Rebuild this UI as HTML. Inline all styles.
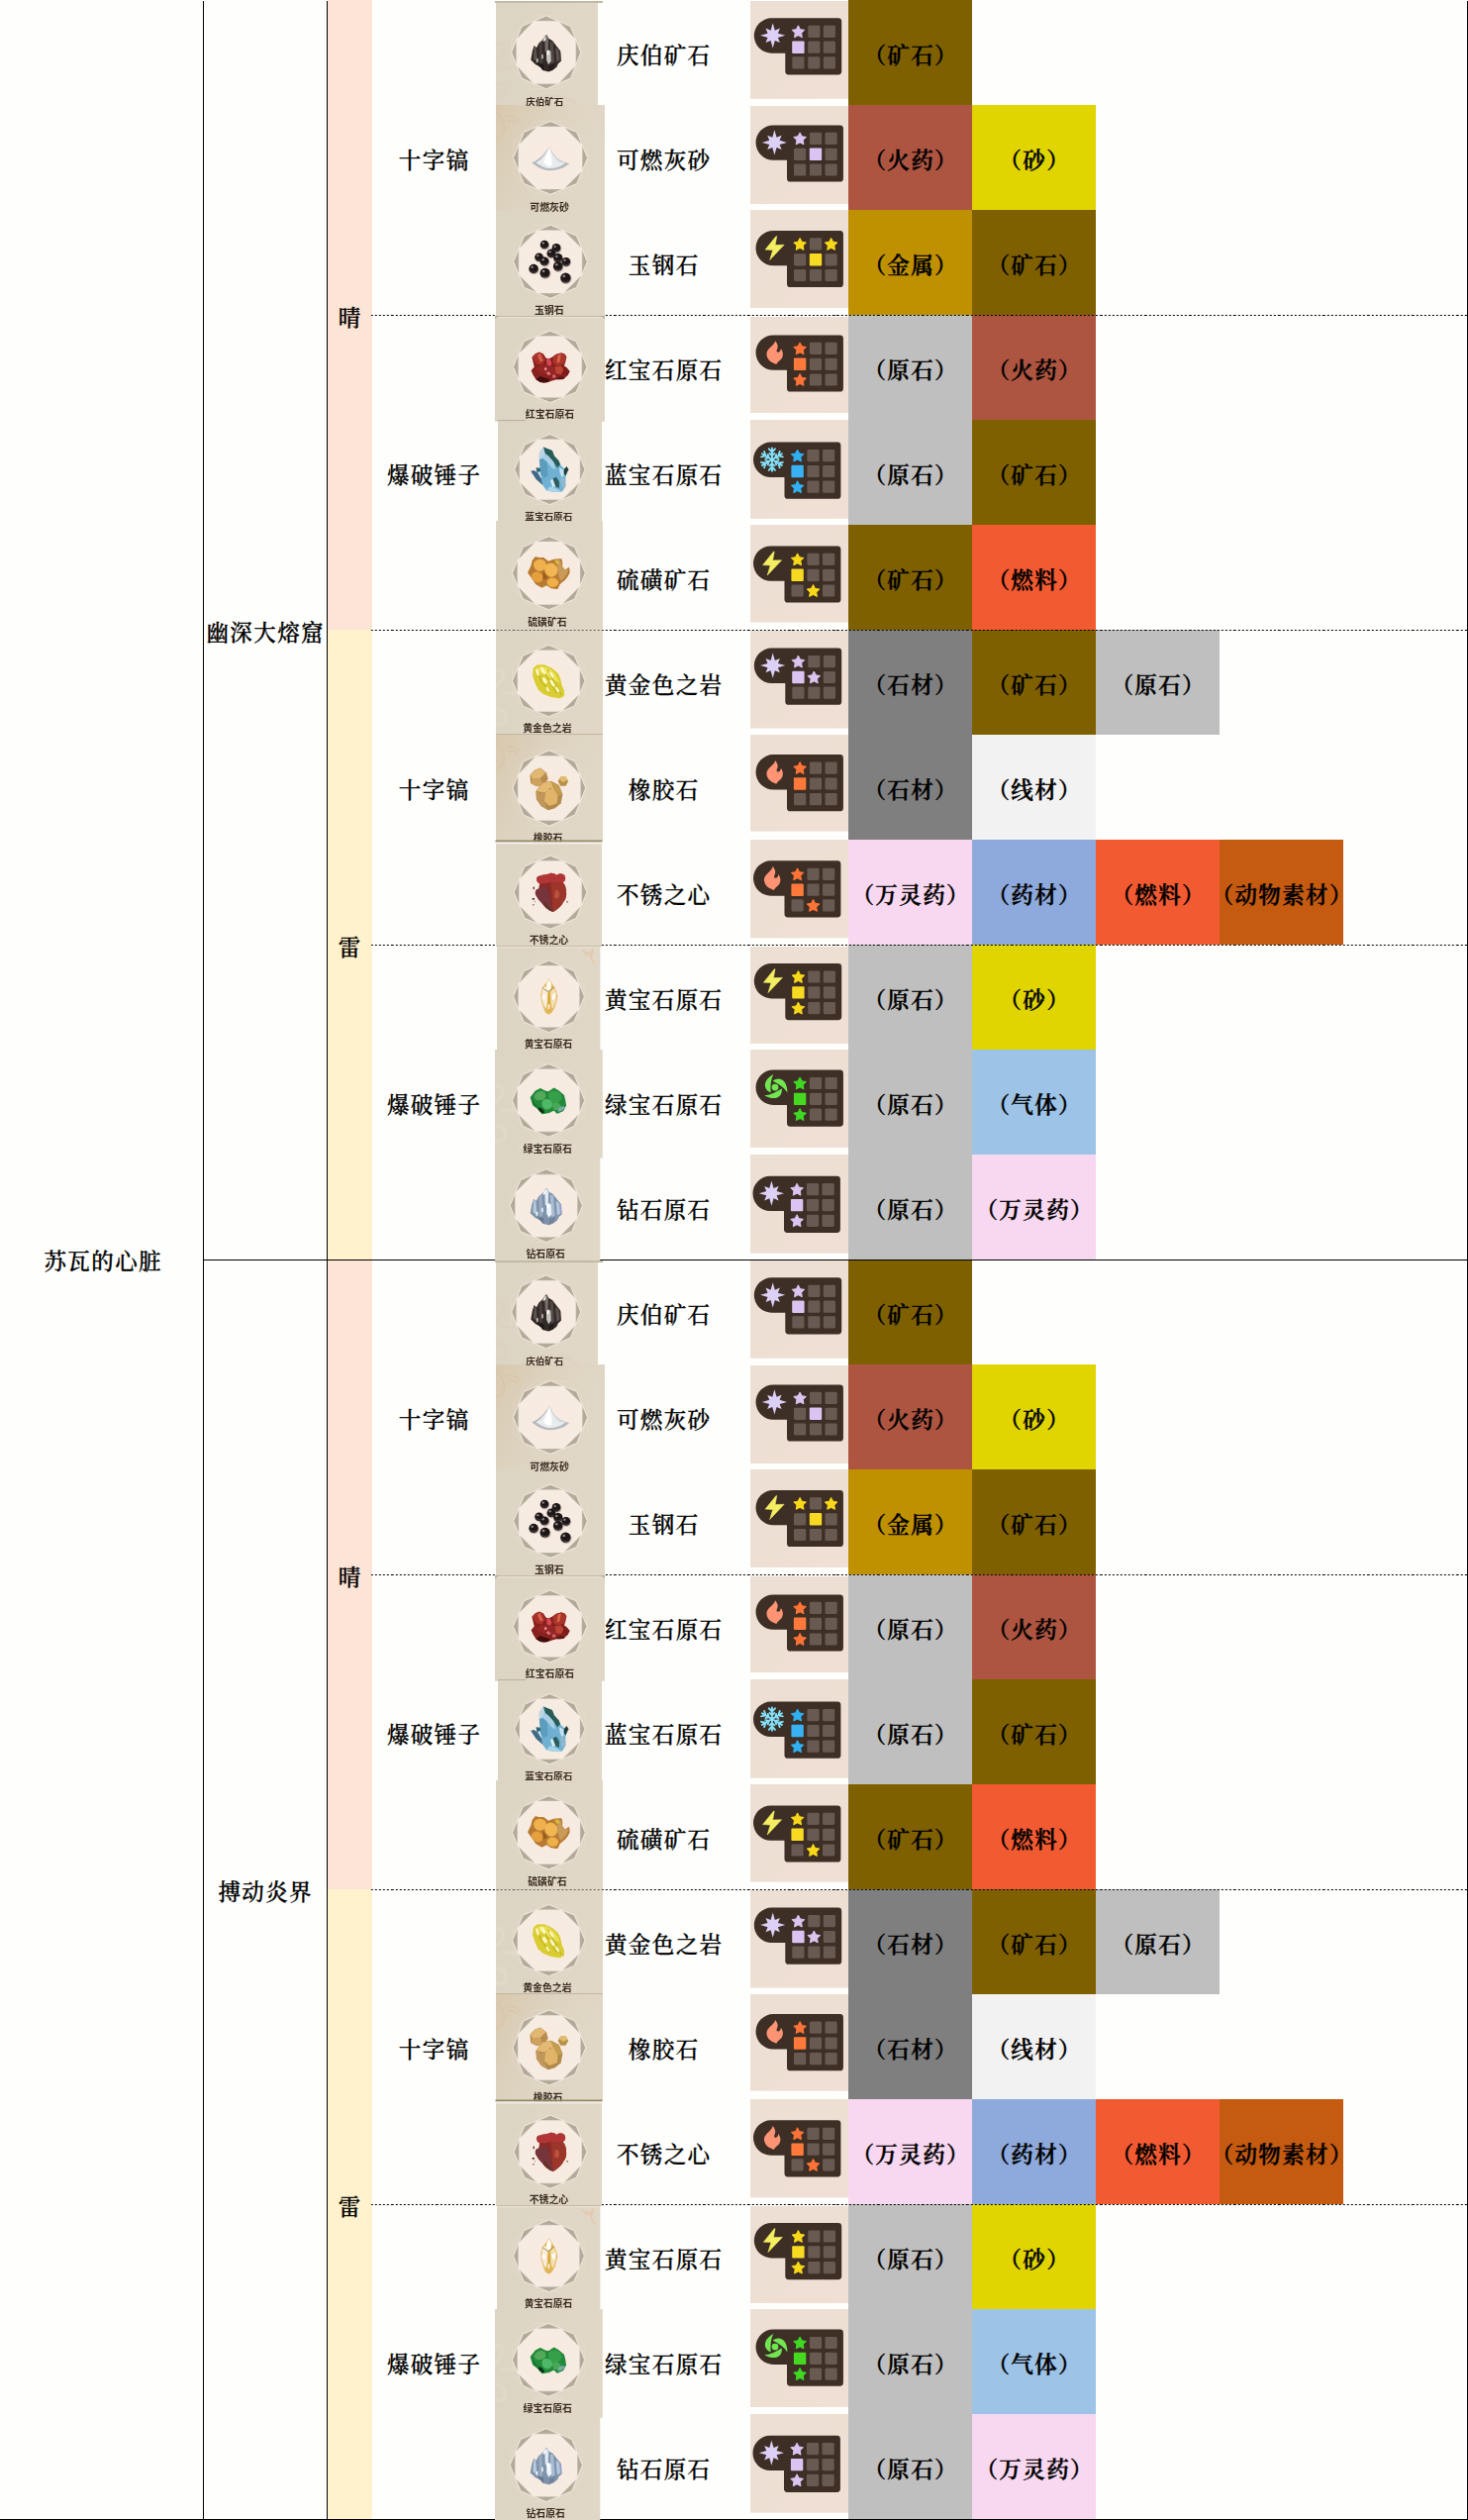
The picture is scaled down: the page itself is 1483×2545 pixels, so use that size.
<!DOCTYPE html>
<html lang="zh-CN"><head><meta charset="utf-8"><title>苏瓦的心脏</title>
<style>
html,body{margin:0;padding:0;background:#fefffd;}
body{width:1483px;height:2545px;position:relative;overflow:hidden;font-family:"Liberation Serif","Noto Serif CJK SC",serif;font-size:22.5px;letter-spacing:1.4px;font-weight:500;color:#000;-webkit-text-stroke:0.3px #000;}
.a{position:absolute;}
.t{position:absolute;white-space:nowrap;text-align:center;line-height:30px;height:30px;padding-left:1.4px;box-sizing:border-box;}
.b{font-weight:600;-webkit-text-stroke:0.4px #000;}
.vl{position:absolute;width:1px;background:#000;}
.hl{position:absolute;height:1px;background:#000;}
.dl{position:absolute;height:1px;left:375px;width:1107px;background:repeating-linear-gradient(90deg,#000 0,#000 2.1px,transparent 2.1px,transparent 4.0913px);background-position:-0.2px 0;}
.c{position:absolute;width:125px;height:106px;}
svg text{letter-spacing:0;}
</style></head><body>

<div class="a" style="left:331px;top:0px;width:45px;height:636px;background:#fce4d6"></div>
<div class="a" style="left:331px;top:636px;width:45px;height:636px;background:#fff2cc"></div>
<div class="a" style="left:331px;top:1272px;width:45px;height:636px;background:#fce4d6"></div>
<div class="a" style="left:331px;top:1908px;width:45px;height:636px;background:#fff2cc"></div>
<div class="c" style="left:857px;top:0px;background:#7f6000"></div>
<div class="c" style="left:857px;top:106px;background:#ae5541"></div>
<div class="c" style="left:982px;top:106px;background:#e0d500"></div>
<div class="c" style="left:857px;top:212px;background:#bf9000"></div>
<div class="c" style="left:982px;top:212px;background:#7f6000"></div>
<div class="c" style="left:857px;top:318px;background:#bfbfbf"></div>
<div class="c" style="left:982px;top:318px;background:#ae5541"></div>
<div class="c" style="left:857px;top:424px;background:#bfbfbf"></div>
<div class="c" style="left:982px;top:424px;background:#7f6000"></div>
<div class="c" style="left:857px;top:530px;background:#7f6000"></div>
<div class="c" style="left:982px;top:530px;background:#f25a32"></div>
<div class="c" style="left:857px;top:636px;background:#7f7f7f"></div>
<div class="c" style="left:982px;top:636px;background:#7f6000"></div>
<div class="c" style="left:1107px;top:636px;background:#bfbfbf"></div>
<div class="c" style="left:857px;top:742px;background:#7f7f7f"></div>
<div class="c" style="left:982px;top:742px;background:#f2f2f2"></div>
<div class="c" style="left:857px;top:848px;background:#f8d7f0"></div>
<div class="c" style="left:982px;top:848px;background:#8ea9db"></div>
<div class="c" style="left:1107px;top:848px;background:#f25a32"></div>
<div class="c" style="left:1232px;top:848px;background:#c55a11"></div>
<div class="c" style="left:857px;top:954px;background:#bfbfbf"></div>
<div class="c" style="left:982px;top:954px;background:#e0d500"></div>
<div class="c" style="left:857px;top:1060px;background:#bfbfbf"></div>
<div class="c" style="left:982px;top:1060px;background:#9dc3e6"></div>
<div class="c" style="left:857px;top:1166px;background:#bfbfbf"></div>
<div class="c" style="left:982px;top:1166px;background:#f8d7f0"></div>
<div class="c" style="left:857px;top:1272px;background:#7f6000"></div>
<div class="c" style="left:857px;top:1378px;background:#ae5541"></div>
<div class="c" style="left:982px;top:1378px;background:#e0d500"></div>
<div class="c" style="left:857px;top:1484px;background:#bf9000"></div>
<div class="c" style="left:982px;top:1484px;background:#7f6000"></div>
<div class="c" style="left:857px;top:1590px;background:#bfbfbf"></div>
<div class="c" style="left:982px;top:1590px;background:#ae5541"></div>
<div class="c" style="left:857px;top:1696px;background:#bfbfbf"></div>
<div class="c" style="left:982px;top:1696px;background:#7f6000"></div>
<div class="c" style="left:857px;top:1802px;background:#7f6000"></div>
<div class="c" style="left:982px;top:1802px;background:#f25a32"></div>
<div class="c" style="left:857px;top:1908px;background:#7f7f7f"></div>
<div class="c" style="left:982px;top:1908px;background:#7f6000"></div>
<div class="c" style="left:1107px;top:1908px;background:#bfbfbf"></div>
<div class="c" style="left:857px;top:2014px;background:#7f7f7f"></div>
<div class="c" style="left:982px;top:2014px;background:#f2f2f2"></div>
<div class="c" style="left:857px;top:2120px;background:#f8d7f0"></div>
<div class="c" style="left:982px;top:2120px;background:#8ea9db"></div>
<div class="c" style="left:1107px;top:2120px;background:#f25a32"></div>
<div class="c" style="left:1232px;top:2120px;background:#c55a11"></div>
<div class="c" style="left:857px;top:2226px;background:#bfbfbf"></div>
<div class="c" style="left:982px;top:2226px;background:#e0d500"></div>
<div class="c" style="left:857px;top:2332px;background:#bfbfbf"></div>
<div class="c" style="left:982px;top:2332px;background:#9dc3e6"></div>
<div class="c" style="left:857px;top:2438px;background:#bfbfbf"></div>
<div class="c" style="left:982px;top:2438px;background:#f8d7f0"></div>
<div class="vl" style="left:205px;top:1px;height:2544px"></div>
<div class="vl" style="left:330px;top:1px;height:2544px"></div>
<div class="vl" style="left:1482px;top:1px;height:2544px"></div>
<div class="hl" style="left:205px;top:1272px;width:1278px"></div>
<div class="hl" style="left:0;top:2544px;width:1483px"></div>
<div class="dl" style="top:318px"></div>
<div class="dl" style="top:636px"></div>
<div class="dl" style="top:954px"></div>
<div class="dl" style="top:1590px"></div>
<div class="dl" style="top:1908px"></div>
<div class="dl" style="top:2226px"></div>
<svg width="0" height="0" style="position:absolute"><defs>
<linearGradient id="gbg" x1="0" y1="0" x2="1" y2="1"><stop offset="0" stop-color="#ecdfd3"/><stop offset="1" stop-color="#f0dfd4"/></linearGradient>
<linearGradient id="ibg" x1="0" y1="0" x2="1" y2="0"><stop offset="0" stop-color="#dcd5c4"/><stop offset="1" stop-color="#e1d7c6"/></linearGradient>
<radialGradient id="disc" cx="0.5" cy="0.5" r="0.5"><stop offset="0" stop-color="#fbe9e0"/><stop offset="0.6" stop-color="#f7ebe1"/><stop offset="1" stop-color="#f5ece2"/></radialGradient>
<linearGradient id="tan" x1="0" y1="0" x2="1" y2="0.5"><stop offset="0" stop-color="#d8c6aa" stop-opacity="0.9"/><stop offset="0.45" stop-color="#dccfb8" stop-opacity="0.5"/><stop offset="1" stop-color="#e0d6c4" stop-opacity="0"/></linearGradient>
<filter id="b3" x="-5%" y="-5%" width="110%" height="110%"><feGaussianBlur stdDeviation="0.35"/></filter>
<filter id="b5" x="-10%" y="-10%" width="120%" height="120%"><feGaussianBlur stdDeviation="0.5"/></filter>
<filter id="b8" x="-10%" y="-10%" width="120%" height="120%"><feGaussianBlur stdDeviation="0.8"/></filter>
</defs></svg>
<svg class="a" style="left:500.5px;top:1px" width="103.2" height="105.4" viewBox="0 0 103.2 105.4"><rect width="103.2" height="105.4" fill="url(#ibg)"/><g transform="translate(-6 62)" fill="none" stroke="#d9c8b6" stroke-width="1.3" opacity="0.6" filter="url(#b8)"><path d="M2,0 C12,-4 16,-14 12,-18 C8,-21 3,-18 4,-13"/><path d="M0,22 C10,18 18,24 16,32 C14,38 6,38 4,34"/><path d="M12,4 C20,8 22,2 30,6"/><path d="M30,44 C50,30 80,32 88,44"/></g><g transform="translate(50.7 51.9) scale(0.9358 0.9866)"><g filter="url(#b3)"><polygon points="37.32,15.46 15.46,37.32 -15.46,37.32 -37.32,15.46 -37.32,-15.46 -15.46,-37.32 15.46,-37.32 37.32,-15.46" fill="none" stroke="#ebe4d8" stroke-width="0.8" opacity="0.35"/><polygon points="37.4,0 26.45,26.45 0,37.4 -26.45,26.45 -37.4,0 -26.45,-26.45 -0,-37.4 26.45,-26.45" fill="#b3aa9a" stroke="#f4eee3" stroke-width="0.9" stroke-linejoin="round"/><polygon points="31.97,13.24 13.24,31.97 -13.24,31.97 -31.97,13.24 -31.97,-13.24 -13.24,-31.97 13.24,-31.97 31.97,-13.24" fill="url(#disc)" stroke="#f1e9de" stroke-width="0.5"/></g><g filter="url(#b5)"><polygon points="0.5,-18.1 2.7,-14.4 7,-11.9 11.4,-6.2 15.3,-1.7 16.2,8.9 13.1,11.4 11.4,15 7,18.3 2.7,19.9 -3.9,18.3 -6.1,15 -11.3,12.6 -16.5,7.7 -14.8,-1.3 -13,-7 -10.4,-4.6 -7.8,-9.5 -4.3,-12.3 -1.7,-16" fill="#332b28" /><polygon points="-13,-6.4 -10.6,-3.6 -9.6,9 -13.6,7" fill="#5b534e" /><polygon points="-7.6,-9 -4.6,-11.6 -3.6,10 -7,12" fill="#463f3b" /><polygon points="-1.6,-15.4 0.6,-17.4 2.4,-13.6 2,1 -1,-1" fill="#77706a" /><polygon points="4,-11 7.4,-10.6 9,10 5.4,12" fill="#524a46" /><polygon points="10,-5 13.6,-2.4 14.8,8 11.4,10" fill="#5b534e" /><polygon points="14,-1.6 15.6,-0.6 15.8,8.4 14.4,9" fill="#3b3431" /><polygon points="0.4,0 3,-2.6 5,-1 5.4,9 2.6,12.4 0.4,8" fill="#c9c4bd" /><polygon points="0.8,-1.4 2.6,-2.4 3,2 1,3" fill="#ffffff" /><polygon points="-5,3 -3.4,1.6 -3,6 -4.6,7" fill="#c9c4bd" /><polygon points="-10.6,7 -8.6,6 -8.6,10 -10.4,10.6" fill="#c9c4bd" /><polygon points="-2.6,-14.6 0,-17 -0.6,-12 -3.6,-11" fill="#e6e2da" /><polygon points="-9,11 -3,12.6 -2,18 -7,14.6" fill="#1c1715" /><polygon points="3,14 9,11.6 8,16.6 3,19.4" fill="#241e1b" /></g></g></svg>
<svg class="a" style="left:757.7px;top:1px" width="99.3" height="98.8" viewBox="0 0 99.3 98.8"><rect width="99.3" height="98.8" fill="url(#gbg)"/><g transform="translate(3.8 17.3)"><path d="M17.7,0 H85 Q88.4,0 88.4,3.4 V53.8 Q88.4,57.2 85,57.2 H34.9 Q31.5,57.2 31.5,53.8 V35.4 H17.7 A17.7,17.7 0 0 1 17.7,0 Z" fill="#3d2e26" filter="url(#b3)"/><polygon points="44.6,7.5 46.6,11.35 50.88,12.06 47.83,15.15 48.48,19.44 44.6,17.5 40.72,19.44 41.37,15.15 38.32,12.06 42.6,11.35" fill="#dac4f0" stroke="#dac4f0" stroke-width="1" stroke-linejoin="round"/><rect x="54.4" y="7.4" width="12.2" height="12.2" rx="1.4" fill="#685a52"/><rect x="70" y="7.4" width="12.2" height="12.2" rx="1.4" fill="#685a52"/><rect x="38.4" y="23.2" width="12.399999999999999" height="12.399999999999999" rx="1" fill="#dcc4f2"/><rect x="54.4" y="23.3" width="12.2" height="12.2" rx="1.4" fill="#685a52"/><rect x="70" y="23.3" width="12.2" height="12.2" rx="1.4" fill="#685a52"/><rect x="38.5" y="39" width="12.2" height="12.2" rx="1.4" fill="#685a52"/><rect x="54.4" y="39" width="12.2" height="12.2" rx="1.4" fill="#685a52"/><rect x="70" y="39" width="12.2" height="12.2" rx="1.4" fill="#685a52"/><polygon points="18.9,4.9 21.04,12.33 26.11,10.29 24.07,15.36 31.5,17.5 24.07,19.64 26.11,24.71 21.04,22.67 18.9,30.1 16.76,22.67 11.69,24.71 13.73,19.64 6.3,17.5 13.73,15.36 11.69,10.29 16.76,12.33" fill="#ddd0f6"/></g></svg>
<svg class="a" style="left:500.5px;top:106.4px" width="110.1" height="106.1" viewBox="0 0 110.1 106.1"><rect width="110.1" height="106.1" fill="url(#ibg)"/><rect width="110.1" height="106.1" fill="url(#tan)"/><g transform="translate(-4 4)" fill="none" stroke="#dcc0ac" stroke-width="1.3" opacity="0.8" filter="url(#b5)"><path d="M0,2 C8,4 14,12 12,22 C11,28 6,30 2,28"/><path d="M14,8 C20,6 26,8 28,12"/><path d="M16,12 C20,11 24,12 26,15"/></g><g transform="translate(55 53.45) scale(1.0053 0.9853)"><g filter="url(#b3)"><polygon points="37.32,15.46 15.46,37.32 -15.46,37.32 -37.32,15.46 -37.32,-15.46 -15.46,-37.32 15.46,-37.32 37.32,-15.46" fill="none" stroke="#ebe4d8" stroke-width="0.8" opacity="0.35"/><polygon points="37.4,0 26.45,26.45 0,37.4 -26.45,26.45 -37.4,0 -26.45,-26.45 -0,-37.4 26.45,-26.45" fill="#b3aa9a" stroke="#f4eee3" stroke-width="0.9" stroke-linejoin="round"/><polygon points="31.97,13.24 13.24,31.97 -13.24,31.97 -31.97,13.24 -31.97,-13.24 -13.24,-31.97 13.24,-31.97 31.97,-13.24" fill="url(#disc)" stroke="#f1e9de" stroke-width="0.5"/></g><g filter="url(#b5)"><path d="M-1.1,-11.6 C0.5,-8 3,-3 7,0.5 C11,3 15,4.5 19,5.7 C16,9 11,11.5 6,12.3 C2,13.2 -2,13.4 -5,12.6 C-9,11.6 -13,9.5 -15.5,7.5 C-17,6.5 -18,5.6 -18.6,4.9 C-14,3 -10,0 -7,-3.5 C-4.5,-6.6 -2.6,-9 -1.1,-11.6 Z" fill="#b4b9bd"/><path d="M-1.1,-11.2 C0.2,-7.6 2.4,-3 6,0.4 C9,2.6 12,3.8 15,4.8 C12,7.6 8.4,9.4 4.4,10.2 C1.4,10.9 -1.6,11 -4,10.4 C-7.4,9.6 -11,7.6 -14.6,5 C-11,3 -8.4,0.4 -6,-3 C-4,-6 -2.4,-8.6 -1.1,-11.2 Z" fill="#e9ecee"/><path d="M-1.1,-11 C-0.2,-7 1.6,-1 1.4,8 C-2,9 -5,7 -7,4 C-5,0 -3,-5 -1.1,-11 Z" fill="#ffffff"/><path d="M2,-6 C4,-2 8,2 14,4.6 C10,6 6,4 2,-6 Z" fill="#cfd4d7"/></g></g></svg>
<svg class="a" style="left:757.7px;top:106.8px" width="99.3" height="99.2" viewBox="0 0 99.3 99.2"><rect width="99.3" height="99.2" fill="url(#gbg)"/><g transform="translate(5.5 19.4)"><path d="M17.7,0 H85 Q88.4,0 88.4,3.4 V53.8 Q88.4,57.2 85,57.2 H34.9 Q31.5,57.2 31.5,53.8 V35.4 H17.7 A17.7,17.7 0 0 1 17.7,0 Z" fill="#3d2e26" filter="url(#b3)"/><polygon points="44.6,7.5 46.6,11.35 50.88,12.06 47.83,15.15 48.48,19.44 44.6,17.5 40.72,19.44 41.37,15.15 38.32,12.06 42.6,11.35" fill="#dac4f0" stroke="#dac4f0" stroke-width="1" stroke-linejoin="round"/><rect x="54.4" y="7.4" width="12.2" height="12.2" rx="1.4" fill="#685a52"/><rect x="70" y="7.4" width="12.2" height="12.2" rx="1.4" fill="#685a52"/><rect x="38.5" y="23.3" width="12.2" height="12.2" rx="1.4" fill="#685a52"/><rect x="54.3" y="23.2" width="12.399999999999999" height="12.399999999999999" rx="1" fill="#dcc4f2"/><rect x="70" y="23.3" width="12.2" height="12.2" rx="1.4" fill="#685a52"/><rect x="38.5" y="39" width="12.2" height="12.2" rx="1.4" fill="#685a52"/><rect x="54.4" y="39" width="12.2" height="12.2" rx="1.4" fill="#685a52"/><rect x="70" y="39" width="12.2" height="12.2" rx="1.4" fill="#685a52"/><polygon points="18.9,4.9 21.04,12.33 26.11,10.29 24.07,15.36 31.5,17.5 24.07,19.64 26.11,24.71 21.04,22.67 18.9,30.1 16.76,22.67 11.69,24.71 13.73,19.64 6.3,17.5 13.73,15.36 11.69,10.29 16.76,12.33" fill="#ddd0f6"/></g></svg>
<svg class="a" style="left:500.5px;top:212px" width="110.5" height="107.5" viewBox="0 0 110.5 107.5"><rect width="110.5" height="107.5" fill="url(#ibg)"/><g transform="translate(55 52.3) scale(0.9973 0.9893)"><g filter="url(#b3)"><polygon points="37.32,15.46 15.46,37.32 -15.46,37.32 -37.32,15.46 -37.32,-15.46 -15.46,-37.32 15.46,-37.32 37.32,-15.46" fill="none" stroke="#ebe4d8" stroke-width="0.8" opacity="0.35"/><polygon points="37.4,0 26.45,26.45 0,37.4 -26.45,26.45 -37.4,0 -26.45,-26.45 -0,-37.4 26.45,-26.45" fill="#b3aa9a" stroke="#f4eee3" stroke-width="0.9" stroke-linejoin="round"/><polygon points="31.97,13.24 13.24,31.97 -13.24,31.97 -31.97,13.24 -31.97,-13.24 -13.24,-31.97 13.24,-31.97 31.97,-13.24" fill="url(#disc)" stroke="#f1e9de" stroke-width="0.5"/></g><g filter="url(#b5)"><circle cx="-5.5" cy="-16.7" r="4.8" fill="#b5aba6" opacity="0.8"/><circle cx="6.5" cy="-13.2" r="4.9" fill="#b5aba6" opacity="0.8"/><circle cx="1.4" cy="-7.7" r="4.9" fill="#b5aba6" opacity="0.8"/><circle cx="-11" cy="-3.9" r="4.8" fill="#b5aba6" opacity="0.8"/><circle cx="8.2" cy="-3" r="5.1" fill="#b5aba6" opacity="0.8"/><circle cx="-5.5" cy="0.4" r="5" fill="#b5aba6" opacity="0.8"/><circle cx="16.3" cy="0.8" r="4.9" fill="#b5aba6" opacity="0.8"/><circle cx="8.2" cy="5.5" r="5.3" fill="#b5aba6" opacity="0.8"/><circle cx="-16.5" cy="8" r="5.2" fill="#b5aba6" opacity="0.8"/><circle cx="-5" cy="12.3" r="5.5" fill="#b5aba6" opacity="0.8"/><circle cx="15.9" cy="17.4" r="5.7" fill="#b5aba6" opacity="0.8"/><circle cx="-6" cy="-17.5" r="4.3" fill="#1c1415"/><circle cx="-7.29" cy="-19" r="1.2" fill="#8a8084"/><path d="M-9.01,-16 A3.44,3.44 0 0 0 -2.99,-16" fill="none" stroke="#5a4e50" stroke-width="0.7"/><circle cx="6" cy="-14" r="4.4" fill="#1c1415"/><circle cx="4.68" cy="-15.54" r="1.23" fill="#8a8084"/><path d="M2.92,-12.46 A3.52,3.52 0 0 0 9.08,-12.46" fill="none" stroke="#5a4e50" stroke-width="0.7"/><circle cx="0.9" cy="-8.5" r="4.4" fill="#1c1415"/><circle cx="-0.42" cy="-10.04" r="1.23" fill="#8a8084"/><path d="M-2.18,-6.96 A3.52,3.52 0 0 0 3.98,-6.96" fill="none" stroke="#5a4e50" stroke-width="0.7"/><circle cx="-11.5" cy="-4.7" r="4.3" fill="#1c1415"/><circle cx="-12.79" cy="-6.21" r="1.2" fill="#8a8084"/><path d="M-14.51,-3.2 A3.44,3.44 0 0 0 -8.49,-3.2" fill="none" stroke="#5a4e50" stroke-width="0.7"/><circle cx="7.7" cy="-3.8" r="4.6" fill="#1c1415"/><circle cx="6.32" cy="-5.41" r="1.29" fill="#8a8084"/><path d="M4.48,-2.19 A3.68,3.68 0 0 0 10.92,-2.19" fill="none" stroke="#5a4e50" stroke-width="0.7"/><circle cx="-6" cy="-0.4" r="4.5" fill="#1c1415"/><circle cx="-7.35" cy="-1.98" r="1.26" fill="#8a8084"/><path d="M-9.15,1.17 A3.6,3.6 0 0 0 -2.85,1.17" fill="none" stroke="#5a4e50" stroke-width="0.7"/><circle cx="15.8" cy="0" r="4.4" fill="#1c1415"/><circle cx="14.48" cy="-1.54" r="1.23" fill="#8a8084"/><path d="M12.72,1.54 A3.52,3.52 0 0 0 18.88,1.54" fill="none" stroke="#5a4e50" stroke-width="0.7"/><circle cx="7.7" cy="4.7" r="4.8" fill="#1c1415"/><circle cx="6.26" cy="3.02" r="1.34" fill="#8a8084"/><path d="M4.34,6.38 A3.84,3.84 0 0 0 11.06,6.38" fill="none" stroke="#5a4e50" stroke-width="0.7"/><circle cx="-17" cy="7.2" r="4.7" fill="#1c1415"/><circle cx="-18.41" cy="5.55" r="1.32" fill="#8a8084"/><path d="M-20.29,8.85 A3.76,3.76 0 0 0 -13.71,8.85" fill="none" stroke="#5a4e50" stroke-width="0.7"/><circle cx="-5.5" cy="11.5" r="5" fill="#1c1415"/><circle cx="-7" cy="9.75" r="1.4" fill="#8a8084"/><path d="M-9,13.25 A4,4 0 0 0 -2,13.25" fill="none" stroke="#5a4e50" stroke-width="0.7"/><circle cx="15.4" cy="16.6" r="5.2" fill="#1c1415"/><circle cx="13.84" cy="14.78" r="1.46" fill="#8a8084"/><path d="M11.76,18.42 A4.16,4.16 0 0 0 19.04,18.42" fill="none" stroke="#5a4e50" stroke-width="0.7"/></g></g></svg>
<svg class="a" style="left:757.7px;top:211.7px" width="99.3" height="99.8" viewBox="0 0 99.3 99.8"><rect width="99.3" height="99.8" fill="url(#gbg)"/><g transform="translate(5.5 20.9)"><path d="M17.7,0 H85 Q88.4,0 88.4,3.4 V53.8 Q88.4,57.2 85,57.2 H34.9 Q31.5,57.2 31.5,53.8 V35.4 H17.7 A17.7,17.7 0 0 1 17.7,0 Z" fill="#3d2e26" filter="url(#b3)"/><polygon points="44.6,7.5 46.6,11.35 50.88,12.06 47.83,15.15 48.48,19.44 44.6,17.5 40.72,19.44 41.37,15.15 38.32,12.06 42.6,11.35" fill="#f8d818" stroke="#f8d818" stroke-width="1" stroke-linejoin="round"/><rect x="54.4" y="7.4" width="12.2" height="12.2" rx="1.4" fill="#685a52"/><polygon points="76.1,7.5 78.1,11.35 82.38,12.06 79.33,15.15 79.98,19.44 76.1,17.5 72.22,19.44 72.87,15.15 69.82,12.06 74.1,11.35" fill="#f8d818" stroke="#f8d818" stroke-width="1" stroke-linejoin="round"/><rect x="38.5" y="23.3" width="12.2" height="12.2" rx="1.4" fill="#685a52"/><rect x="54.3" y="23.2" width="12.399999999999999" height="12.399999999999999" rx="1" fill="#f9da22"/><rect x="70" y="23.3" width="12.2" height="12.2" rx="1.4" fill="#685a52"/><rect x="38.5" y="39" width="12.2" height="12.2" rx="1.4" fill="#685a52"/><rect x="54.4" y="39" width="12.2" height="12.2" rx="1.4" fill="#685a52"/><rect x="70" y="39" width="12.2" height="12.2" rx="1.4" fill="#685a52"/><polygon points="20.6,5.6 9.6,19.2 17.2,19.6 14.2,29.6 28.6,14.4 19.6,14.6 21.2,5.8" fill="#f4ee62" stroke="#f4ee62" stroke-width="0.6" stroke-linejoin="round"/></g></svg>
<svg class="a" style="left:500px;top:319.2px" width="111" height="106.8" viewBox="0 0 111 106.8"><rect width="111" height="106.8" fill="url(#ibg)"/><rect x="0" y="0" width="111" height="1" fill="#c5bca6"/><rect x="0" y="1" width="111" height="1.2" fill="#e9e2d4"/><path d="M0,0 l5,0 l-5,3 Z M111,0 l-5,0 l5,3 Z" fill="#b3a98f" opacity="0.8"/><g transform="translate(55.7 51.4) scale(0.9973 0.9679)"><g filter="url(#b3)"><polygon points="37.32,15.46 15.46,37.32 -15.46,37.32 -37.32,15.46 -37.32,-15.46 -15.46,-37.32 15.46,-37.32 37.32,-15.46" fill="none" stroke="#ebe4d8" stroke-width="0.8" opacity="0.35"/><polygon points="37.4,0 26.45,26.45 0,37.4 -26.45,26.45 -37.4,0 -26.45,-26.45 -0,-37.4 26.45,-26.45" fill="#b3aa9a" stroke="#f4eee3" stroke-width="0.9" stroke-linejoin="round"/><polygon points="31.97,13.24 13.24,31.97 -13.24,31.97 -31.97,13.24 -31.97,-13.24 -13.24,-31.97 13.24,-31.97 31.97,-13.24" fill="url(#disc)" stroke="#f1e9de" stroke-width="0.5"/></g><g filter="url(#b5)"><polygon points="-11,-15.3 -7,-13.6 -4,-9 -1.3,-8.3 2,-10 6,-13 11.4,-14.5 15,-13.4 16.7,-10.4 15.6,-5 14.3,-1 17,1 20,4.7 18,9 13.4,12.9 8,13 2,14.5 -2,16 -6.2,16.6 -10,16 -14.3,13.3 -17,9 -19.2,3.9 -16,0 -17,-4 -18.4,-10 -15,-13.6" fill="#86201e" /><polygon points="-18,-10 -15,-13.4 -11,-15 -7.6,-13 -5,-7 -8,-2 -14,-3" fill="#a8322a" /><polygon points="3,-10 7,-13 11.4,-14.2 15,-12.6 16,-10 14,-3 7,-1 3,-4" fill="#ac342c" /><polygon points="-13,-12 -10,-14 -7,-6 -10,-5" fill="#d4604c" /><polygon points="8,-12 11,-13 9.6,-5 7,-4" fill="#d8674e" /><polygon points="-3.6,-8 -0.6,-8.6 1.6,-4 0,1 -3,-1" fill="#d8465a" /><polygon points="-10,-1 -3,-2 3,0 10,-1 14,3 8,8 -2,8 -12,6 -15,2" fill="#962626" /><polygon points="5,0 11,-1 14,3 11,8 6,7" fill="#ba4434" /><polygon points="-6,1.6 -4,0.6 -3,3 -5,4" fill="#f09a9a" /><polygon points="-4,6 -1,5 1,8 -2,9" fill="#e0707c" /><polygon points="2,9 5,8 6,11 3,12" fill="#d86874" /><polygon points="-14.3,13.3 -10,10 -4,12 0,13 -2,16 -6.2,16.6 -10,16" fill="#430e10" /><polygon points="6,12 12,10 15,11.4 13.4,12.9 8,13.6" fill="#5a1416" /><polygon points="14,1 19.6,4.6 17.6,8.6 13,7" fill="#7d1a1c" /></g></g></svg>
<svg class="a" style="left:757.7px;top:320px" width="99.3" height="97" viewBox="0 0 99.3 97"><rect width="99.3" height="97" fill="url(#gbg)"/><g transform="translate(5.5 18.4)"><path d="M17.7,0 H85 Q88.4,0 88.4,3.4 V53.8 Q88.4,57.2 85,57.2 H34.9 Q31.5,57.2 31.5,53.8 V35.4 H17.7 A17.7,17.7 0 0 1 17.7,0 Z" fill="#3d2e26" filter="url(#b3)"/><polygon points="44.6,7.5 46.6,11.35 50.88,12.06 47.83,15.15 48.48,19.44 44.6,17.5 40.72,19.44 41.37,15.15 38.32,12.06 42.6,11.35" fill="#ff7436" stroke="#ff7436" stroke-width="1" stroke-linejoin="round"/><rect x="54.4" y="7.4" width="12.2" height="12.2" rx="1.4" fill="#685a52"/><rect x="70" y="7.4" width="12.2" height="12.2" rx="1.4" fill="#685a52"/><rect x="38.4" y="23.2" width="12.399999999999999" height="12.399999999999999" rx="1" fill="#ff7a3a"/><rect x="54.4" y="23.3" width="12.2" height="12.2" rx="1.4" fill="#685a52"/><rect x="70" y="23.3" width="12.2" height="12.2" rx="1.4" fill="#685a52"/><polygon points="44.6,39.1 46.6,42.95 50.88,43.66 47.83,46.75 48.48,51.04 44.6,49.1 40.72,51.04 41.37,46.75 38.32,43.66 42.6,42.95" fill="#ff7436" stroke="#ff7436" stroke-width="1" stroke-linejoin="round"/><rect x="54.4" y="39" width="12.2" height="12.2" rx="1.4" fill="#685a52"/><rect x="70" y="39" width="12.2" height="12.2" rx="1.4" fill="#685a52"/><path d="M19.6,5.8 C21.8,8.6 23.2,11.4 21.4,14.6 C20.6,16.2 21.2,17.8 22.8,17.4 C24.6,16.9 25.4,15.2 25.2,13.6 C27.6,16.4 28.2,20.4 26.2,23.6 C24.6,26 22,26.6 20.8,29.6 C16.4,28.2 11.6,25.4 11,20.2 C10.6,15.8 13.8,13.2 16.6,10.6 C18,9.2 19.2,7.8 19.6,5.8 Z" fill="#ff9474"/></g></svg>
<svg class="a" style="left:502.8px;top:424px" width="105.2" height="102.4" viewBox="0 0 105.2 102.4"><rect width="105.2" height="102.4" fill="url(#ibg)"/><path d="M0,0.6 h28" stroke="#a39a84" stroke-width="0.9" opacity="0.7"/><g transform="translate(52.4 50.15) scale(0.9519 0.9479)"><g filter="url(#b3)"><polygon points="37.32,15.46 15.46,37.32 -15.46,37.32 -37.32,15.46 -37.32,-15.46 -15.46,-37.32 15.46,-37.32 37.32,-15.46" fill="none" stroke="#ebe4d8" stroke-width="0.8" opacity="0.35"/><polygon points="37.4,0 26.45,26.45 0,37.4 -26.45,26.45 -37.4,0 -26.45,-26.45 -0,-37.4 26.45,-26.45" fill="#b3aa9a" stroke="#f4eee3" stroke-width="0.9" stroke-linejoin="round"/><polygon points="31.97,13.24 13.24,31.97 -13.24,31.97 -31.97,13.24 -31.97,-13.24 -13.24,-31.97 13.24,-31.97 31.97,-13.24" fill="url(#disc)" stroke="#f1e9de" stroke-width="0.5"/></g><g filter="url(#b5)"><polygon points="-20.2,1.8 -16.7,0.9 -12,4 -8,10 -7.7,16.4 -14.6,10.4" fill="#3f6a88" /><polygon points="-14.6,-2.1 -9.4,-1.6 -6,6 -5,14 -9,9 -13.7,2.7" fill="#2f6474" /><polygon points="-13,3 -10.6,2 -8,8 -9,10" fill="#cfe8f2" /><polygon points="-6.8,-24 2.6,-20.1 4.8,-14.5 9.5,-9.4 11.2,-5.1 15.5,-0.8 16.8,7 16.8,17.7 12.9,23.8 4.8,24.2 -3.4,22.5 -7.7,16.4 -9.4,5 -11.1,-10.2 -11.1,-17.5" fill="#6fb1d3" /><polygon points="-6.8,-24 2.6,-20.1 4.8,-14.5 9.5,-9.4 11.2,-5.1 8,-2 4,-8 -1,-14 -5,-17" fill="#2b5b56" /><polygon points="-6.8,-24 -5,-17 -8,-12 -11.1,-10.2 -11.1,-17.5" fill="#bcd6e6" /><polygon points="-5,-17 -1,-14 4,-8 6,0 2,-2 -3,-8 -8,-12" fill="#a9cfe6" /><polygon points="-11.1,-10.2 -8,-12 -3,-8 -2,6 -6,10 -9.4,5" fill="#5b9dbd" /><polygon points="15.5,-0.8 18.1,-3.4 19.8,0.1 16.8,7 15,4" fill="#1e3c3a" /><polygon points="10,-2 14,0 15,6 13,9 10.6,3" fill="#c8e2ee" /><polygon points="3,10 7,8 10,13 10,20 6,18" fill="#2e5e5c" /><polygon points="0.6,12 3,10 6,18 3,19" fill="#d2ecf4" /><polygon points="-3.4,22.5 0,18 6,20 10,22 12.9,23.8 4.8,24.2" fill="#a8d4e8" /><polygon points="11,10 16,9 16.8,17.7 13,20" fill="#8fb8cc" /></g></g></svg>
<svg class="a" style="left:757.7px;top:423.8px" width="99.3" height="99.8" viewBox="0 0 99.3 99.8"><rect width="99.3" height="99.8" fill="url(#gbg)"/><g transform="translate(3 22.6)"><path d="M17.7,0 H85 Q88.4,0 88.4,3.4 V53.8 Q88.4,57.2 85,57.2 H34.9 Q31.5,57.2 31.5,53.8 V35.4 H17.7 A17.7,17.7 0 0 1 17.7,0 Z" fill="#3d2e26" filter="url(#b3)"/><polygon points="44.6,7.5 46.6,11.35 50.88,12.06 47.83,15.15 48.48,19.44 44.6,17.5 40.72,19.44 41.37,15.15 38.32,12.06 42.6,11.35" fill="#2fb0f2" stroke="#2fb0f2" stroke-width="1" stroke-linejoin="round"/><rect x="54.4" y="7.4" width="12.2" height="12.2" rx="1.4" fill="#685a52"/><rect x="70" y="7.4" width="12.2" height="12.2" rx="1.4" fill="#685a52"/><rect x="38.4" y="23.2" width="12.399999999999999" height="12.399999999999999" rx="1" fill="#38b2f2"/><rect x="54.4" y="23.3" width="12.2" height="12.2" rx="1.4" fill="#685a52"/><rect x="70" y="23.3" width="12.2" height="12.2" rx="1.4" fill="#685a52"/><polygon points="44.6,39.1 46.6,42.95 50.88,43.66 47.83,46.75 48.48,51.04 44.6,49.1 40.72,51.04 41.37,46.75 38.32,43.66 42.6,42.95" fill="#2fb0f2" stroke="#2fb0f2" stroke-width="1" stroke-linejoin="round"/><rect x="54.4" y="39" width="12.2" height="12.2" rx="1.4" fill="#685a52"/><rect x="70" y="39" width="12.2" height="12.2" rx="1.4" fill="#685a52"/><g transform="rotate(0 18.9 17.5)"><path d="M18.9,17.5 V5.9 M15.8,6.7 L18.9,10.1 L22,6.7 M16.5,11.3 L18.9,13.7 L21.3,11.3" fill="none" stroke="#84e2fa" stroke-width="1.9" stroke-linecap="round" stroke-linejoin="round"/></g><g transform="rotate(60 18.9 17.5)"><path d="M18.9,17.5 V5.9 M15.8,6.7 L18.9,10.1 L22,6.7 M16.5,11.3 L18.9,13.7 L21.3,11.3" fill="none" stroke="#84e2fa" stroke-width="1.9" stroke-linecap="round" stroke-linejoin="round"/></g><g transform="rotate(120 18.9 17.5)"><path d="M18.9,17.5 V5.9 M15.8,6.7 L18.9,10.1 L22,6.7 M16.5,11.3 L18.9,13.7 L21.3,11.3" fill="none" stroke="#84e2fa" stroke-width="1.9" stroke-linecap="round" stroke-linejoin="round"/></g><g transform="rotate(180 18.9 17.5)"><path d="M18.9,17.5 V5.9 M15.8,6.7 L18.9,10.1 L22,6.7 M16.5,11.3 L18.9,13.7 L21.3,11.3" fill="none" stroke="#84e2fa" stroke-width="1.9" stroke-linecap="round" stroke-linejoin="round"/></g><g transform="rotate(240 18.9 17.5)"><path d="M18.9,17.5 V5.9 M15.8,6.7 L18.9,10.1 L22,6.7 M16.5,11.3 L18.9,13.7 L21.3,11.3" fill="none" stroke="#84e2fa" stroke-width="1.9" stroke-linecap="round" stroke-linejoin="round"/></g><g transform="rotate(300 18.9 17.5)"><path d="M18.9,17.5 V5.9 M15.8,6.7 L18.9,10.1 L22,6.7 M16.5,11.3 L18.9,13.7 L21.3,11.3" fill="none" stroke="#84e2fa" stroke-width="1.9" stroke-linecap="round" stroke-linejoin="round"/></g></g></svg>
<svg class="a" style="left:500.5px;top:526.2px" width="108.3" height="110.8" viewBox="0 0 108.3 110.8"><rect width="108.3" height="110.8" fill="url(#ibg)"/><g transform="translate(53.4 52.75) scale(0.9866 0.9906)"><g filter="url(#b3)"><polygon points="37.32,15.46 15.46,37.32 -15.46,37.32 -37.32,15.46 -37.32,-15.46 -15.46,-37.32 15.46,-37.32 37.32,-15.46" fill="none" stroke="#ebe4d8" stroke-width="0.8" opacity="0.35"/><polygon points="37.4,0 26.45,26.45 0,37.4 -26.45,26.45 -37.4,0 -26.45,-26.45 -0,-37.4 26.45,-26.45" fill="#b3aa9a" stroke="#f4eee3" stroke-width="0.9" stroke-linejoin="round"/><polygon points="31.97,13.24 13.24,31.97 -13.24,31.97 -31.97,13.24 -31.97,-13.24 -13.24,-31.97 13.24,-31.97 31.97,-13.24" fill="url(#disc)" stroke="#f1e9de" stroke-width="0.5"/></g><g filter="url(#b5)"><polygon points="-13.6,-16 -9,-15 -5.4,-15.2 -0.5,-11.2 3,-12.6 6.9,-13.6 12.6,-14 13.4,-10 13,-7 16.3,-2.2 20.4,-5 20.8,-0.5 18.6,3.6 15.9,6.8 11,10.9 8.5,15.8 2.8,15 -2.1,11.7 -7,14.2 -12.8,10.9 -16.8,5.2 -20.9,-0.5 -17.7,-7 -16.4,-12.4" fill="#b87a30" stroke="#b87a30" stroke-width="1.4" stroke-linejoin="round"/><path d="M-15,-11 C-12,-15 -7,-15 -4,-12 C-1,-8 -3,-3 -8,-2 C-13,-1 -17,-6 -15,-11 Z" fill="#efb04e"/><path d="M-3,-8 C1,-12 7,-10 9,-5 C10,0 7,4 2,4 C-3,3 -6,-3 -3,-8 Z" fill="#f2b652"/><path d="M-17,1 C-13,-3 -8,-1 -6,3 C-5,8 -9,11 -13,9 C-17,7 -19,4 -17,1 Z" fill="#e5a03e"/><path d="M-1,7 C3,3 9,5 10,9 C10,13 6,15 2,14 C-1,13 -3,10 -1,7 Z" fill="#eeb048"/><path d="M8,-13 C11,-14 13,-12 13,-8 C14,-4 17,-2 20,-4 C20,0 17,5 12,8 C9,4 10,-2 8,-13 Z" fill="#c99a5a"/><path d="M6,-13 C8,-14 11,-13 11,-10 C10,-8 7,-8 6,-13 Z" fill="#d8b840"/><path d="M-6,-2 L-1,5 L-6,7 Z" fill="#9a5c1c"/></g></g></svg>
<svg class="a" style="left:757.7px;top:530.4px" width="99.3" height="98.6" viewBox="0 0 99.3 98.6"><rect width="99.3" height="98.6" fill="url(#gbg)"/><g transform="translate(3 21.4)"><path d="M17.7,0 H85 Q88.4,0 88.4,3.4 V53.8 Q88.4,57.2 85,57.2 H34.9 Q31.5,57.2 31.5,53.8 V35.4 H17.7 A17.7,17.7 0 0 1 17.7,0 Z" fill="#3d2e26" filter="url(#b3)"/><polygon points="44.6,7.5 46.6,11.35 50.88,12.06 47.83,15.15 48.48,19.44 44.6,17.5 40.72,19.44 41.37,15.15 38.32,12.06 42.6,11.35" fill="#f8d818" stroke="#f8d818" stroke-width="1" stroke-linejoin="round"/><rect x="54.4" y="7.4" width="12.2" height="12.2" rx="1.4" fill="#685a52"/><rect x="70" y="7.4" width="12.2" height="12.2" rx="1.4" fill="#685a52"/><rect x="38.4" y="23.2" width="12.399999999999999" height="12.399999999999999" rx="1" fill="#f9da22"/><rect x="54.4" y="23.3" width="12.2" height="12.2" rx="1.4" fill="#685a52"/><rect x="70" y="23.3" width="12.2" height="12.2" rx="1.4" fill="#685a52"/><rect x="38.5" y="39" width="12.2" height="12.2" rx="1.4" fill="#685a52"/><polygon points="60.5,39.1 62.5,42.95 66.78,43.66 63.73,46.75 64.38,51.04 60.5,49.1 56.62,51.04 57.27,46.75 54.22,43.66 58.5,42.95" fill="#f8d818" stroke="#f8d818" stroke-width="1" stroke-linejoin="round"/><rect x="70" y="39" width="12.2" height="12.2" rx="1.4" fill="#685a52"/><polygon points="20.6,5.6 9.6,19.2 17.2,19.6 14.2,29.6 28.6,14.4 19.6,14.6 21.2,5.8" fill="#f4ee62" stroke="#f4ee62" stroke-width="0.6" stroke-linejoin="round"/></g></svg>
<svg class="a" style="left:500.5px;top:636.6px" width="108.4" height="104.7" viewBox="0 0 108.4 104.7"><rect width="108.4" height="104.7" fill="url(#ibg)"/><g transform="translate(-6 58)" fill="none" stroke="#e8e1d3" stroke-width="1.8" opacity="0.6" filter="url(#b8)"><path d="M2,0 C12,-4 16,-14 12,-18 C8,-21 3,-18 4,-13"/><path d="M0,22 C10,18 18,24 16,32 C14,38 6,38 4,34"/><path d="M12,4 C20,8 22,2 30,6"/><path d="M30,44 C50,30 80,32 88,44"/></g><g transform="translate(53.3 50.65) scale(0.9813 0.9639)"><g filter="url(#b3)"><polygon points="37.32,15.46 15.46,37.32 -15.46,37.32 -37.32,15.46 -37.32,-15.46 -15.46,-37.32 15.46,-37.32 37.32,-15.46" fill="none" stroke="#ebe4d8" stroke-width="0.8" opacity="0.35"/><polygon points="37.4,0 26.45,26.45 0,37.4 -26.45,26.45 -37.4,0 -26.45,-26.45 -0,-37.4 26.45,-26.45" fill="#b3aa9a" stroke="#f4eee3" stroke-width="0.9" stroke-linejoin="round"/><polygon points="31.97,13.24 13.24,31.97 -13.24,31.97 -31.97,13.24 -31.97,-13.24 -13.24,-31.97 13.24,-31.97 31.97,-13.24" fill="url(#disc)" stroke="#f1e9de" stroke-width="0.5"/></g><g filter="url(#b5)"><polygon points="-11.8,-15.9 -4.5,-16.1 2.9,-12.7 9,-7.4 11.5,-1.6 12.7,4.5 15.2,10.6 15.2,15.5 11.1,17.6 2.9,16.3 -5.3,13.1 -10.2,8.6 -13.4,1.6 -15.7,-5.7 -15.1,-12.7" fill="#d9cd32" stroke="#d9cd32" stroke-width="1.6" stroke-linejoin="round"/><path d="M-14,-12 C-10,-16 -4,-15.6 1,-12.6 C6,-9 10,-3 11,2 C7,0 1,-4 -5,-7 C-9,-9 -12,-10.6 -14,-12 Z" fill="#ebe25a"/><path d="M-12,-12 L-7,2" stroke="#b8ac20" stroke-width="1" fill="none"/><path d="M-7,-14 L0,-1" stroke="#b8ac20" stroke-width="1" fill="none"/><path d="M-1,-12 L6,2" stroke="#b8ac20" stroke-width="1" fill="none"/><path d="M-6,2 L1,13" stroke="#b8ac20" stroke-width="1" fill="none"/><path d="M1,1 L8,13" stroke="#b8ac20" stroke-width="1" fill="none"/><path d="M7,2 L13,15" stroke="#b8ac20" stroke-width="1" fill="none"/><ellipse cx="-11.6" cy="-9" rx="1.3" ry="3.8" transform="rotate(-20 -11.6 -9)" fill="#fcf8c4"/><ellipse cx="-5.6" cy="-10.6" rx="1.6" ry="4.2" transform="rotate(-28 -5.6 -10.6)" fill="#fcf8c4"/><ellipse cx="3" cy="-6.4" rx="1.3" ry="3.8" transform="rotate(-30 3 -6.4)" fill="#fcf8c4"/><ellipse cx="-4" cy="-0.4" rx="1.8" ry="3.6" transform="rotate(-30 -4 -0.4)" fill="#fcf8c4"/><ellipse cx="3.8" cy="2.6" rx="1.6" ry="4" transform="rotate(-28 3.8 2.6)" fill="#fcf8c4"/><ellipse cx="9" cy="9" rx="1.2" ry="3.4" transform="rotate(-30 9 9)" fill="#fcf8c4"/><ellipse cx="-1" cy="9" rx="1.1" ry="3" transform="rotate(-30 -1 9)" fill="#fcf8c4"/></g></g></svg>
<svg class="a" style="left:757.7px;top:637px" width="99.3" height="98.6" viewBox="0 0 99.3 98.6"><rect width="99.3" height="98.6" fill="url(#gbg)"/><g transform="translate(3.8 17.6)"><path d="M17.7,0 H85 Q88.4,0 88.4,3.4 V53.8 Q88.4,57.2 85,57.2 H34.9 Q31.5,57.2 31.5,53.8 V35.4 H17.7 A17.7,17.7 0 0 1 17.7,0 Z" fill="#3d2e26" filter="url(#b3)"/><polygon points="44.6,7.5 46.6,11.35 50.88,12.06 47.83,15.15 48.48,19.44 44.6,17.5 40.72,19.44 41.37,15.15 38.32,12.06 42.6,11.35" fill="#dac4f0" stroke="#dac4f0" stroke-width="1" stroke-linejoin="round"/><rect x="54.4" y="7.4" width="12.2" height="12.2" rx="1.4" fill="#685a52"/><rect x="70" y="7.4" width="12.2" height="12.2" rx="1.4" fill="#685a52"/><rect x="38.4" y="23.2" width="12.399999999999999" height="12.399999999999999" rx="1" fill="#dcc4f2"/><polygon points="60.5,23.4 62.5,27.25 66.78,27.96 63.73,31.05 64.38,35.34 60.5,33.4 56.62,35.34 57.27,31.05 54.22,27.96 58.5,27.25" fill="#dac4f0" stroke="#dac4f0" stroke-width="1" stroke-linejoin="round"/><rect x="70" y="23.3" width="12.2" height="12.2" rx="1.4" fill="#685a52"/><rect x="38.5" y="39" width="12.2" height="12.2" rx="1.4" fill="#685a52"/><rect x="54.4" y="39" width="12.2" height="12.2" rx="1.4" fill="#685a52"/><rect x="70" y="39" width="12.2" height="12.2" rx="1.4" fill="#685a52"/><polygon points="18.9,4.9 21.04,12.33 26.11,10.29 24.07,15.36 31.5,17.5 24.07,19.64 26.11,24.71 21.04,22.67 18.9,30.1 16.76,22.67 11.69,24.71 13.73,19.64 6.3,17.5 13.73,15.36 11.69,10.29 16.76,12.33" fill="#ddd0f6"/></g></svg>
<svg class="a" style="left:500.5px;top:741.1px" width="108.5" height="107.9" viewBox="0 0 108.5 107.9"><rect width="108.5" height="107.9" fill="url(#ibg)"/><rect width="108.5" height="107.9" fill="url(#tan)"/><rect x="0" y="0" width="108.5" height="1" fill="#c2b7a0"/><g transform="translate(-4 6)" fill="none" stroke="#dcc0ac" stroke-width="1.3" opacity="0.8" filter="url(#b5)"><path d="M0,2 C8,4 14,12 12,22 C11,28 6,30 2,28"/><path d="M14,8 C20,6 26,8 28,12"/><path d="M16,12 C20,11 24,12 26,15"/></g><g transform="translate(53.8 55) scale(0.9866 1.0187)"><g filter="url(#b3)"><polygon points="37.32,15.46 15.46,37.32 -15.46,37.32 -37.32,15.46 -37.32,-15.46 -15.46,-37.32 15.46,-37.32 37.32,-15.46" fill="none" stroke="#ebe4d8" stroke-width="0.8" opacity="0.35"/><polygon points="37.4,0 26.45,26.45 0,37.4 -26.45,26.45 -37.4,0 -26.45,-26.45 -0,-37.4 26.45,-26.45" fill="#b3aa9a" stroke="#f4eee3" stroke-width="0.9" stroke-linejoin="round"/><polygon points="31.97,13.24 13.24,31.97 -13.24,31.97 -31.97,13.24 -31.97,-13.24 -13.24,-31.97 13.24,-31.97 31.97,-13.24" fill="url(#disc)" stroke="#f1e9de" stroke-width="0.5"/></g><g filter="url(#b5)"><polygon points="-19.6,-13 -15,-18 -9,-20 -3,-15.4 -1,-9 -6,-3 -13,-1.6 -19,-5" fill="#b88c50" /><polygon points="-19,-13 -15,-17.6 -9,-19.6 -3.6,-15.4 -9,-10 -17,-9" fill="#e0b872" /><polygon points="-17,-9 -9,-10 -7,-4 -13,-2 -18.6,-5" fill="#cfa260" /><polygon points="19.6,-6.8 16.95,-2.21 11.65,-2.21 9,-6.8 11.65,-11.39 16.95,-11.39" fill="#b89048" /><polygon points="10,-9.4 12,-11.6 17,-11.6 19,-8 14,-6" fill="#e0bc6c" /><polygon points="-13.6,3 -7,-5.6 2,-7 10,-3 13.8,6 12,15 6,20 -1,21.8 -8,18 -13,11" fill="#b08a4c" /><polygon points="-13,3 -7,-5.2 2,-6.6 4,-1 -4,4 -8,4" fill="#e4ba72" /><polygon points="2,-6.6 10,-2.6 13.4,6 9,8 4,-1" fill="#c49c50" /><polygon points="-4,4 4,-1 9,8 8,15 0,17.6 -5,13" fill="#e2b46a" /><polygon points="-13.4,4 -8,4 -4,4 -5,13 -2,21 -8,18 -13,11" fill="#c0965a" /><circle cx="1" cy="0.6" r="0.6" fill="#8a6428"/><circle cx="-9" cy="5" r="0.6" fill="#8a6428"/><circle cx="9.4" cy="8.4" r="0.5" fill="#8a6428"/></g></g></svg>
<svg class="a" style="left:757.7px;top:742.4px" width="99.3" height="97.6" viewBox="0 0 99.3 97.6"><rect width="99.3" height="97.6" fill="url(#gbg)"/><g transform="translate(5.5 20.1)"><path d="M17.7,0 H85 Q88.4,0 88.4,3.4 V53.8 Q88.4,57.2 85,57.2 H34.9 Q31.5,57.2 31.5,53.8 V35.4 H17.7 A17.7,17.7 0 0 1 17.7,0 Z" fill="#3d2e26" filter="url(#b3)"/><polygon points="44.6,7.5 46.6,11.35 50.88,12.06 47.83,15.15 48.48,19.44 44.6,17.5 40.72,19.44 41.37,15.15 38.32,12.06 42.6,11.35" fill="#ff7436" stroke="#ff7436" stroke-width="1" stroke-linejoin="round"/><rect x="54.4" y="7.4" width="12.2" height="12.2" rx="1.4" fill="#685a52"/><rect x="70" y="7.4" width="12.2" height="12.2" rx="1.4" fill="#685a52"/><rect x="38.4" y="23.2" width="12.399999999999999" height="12.399999999999999" rx="1" fill="#ff7a3a"/><rect x="54.4" y="23.3" width="12.2" height="12.2" rx="1.4" fill="#685a52"/><rect x="70" y="23.3" width="12.2" height="12.2" rx="1.4" fill="#685a52"/><rect x="38.5" y="39" width="12.2" height="12.2" rx="1.4" fill="#685a52"/><rect x="54.4" y="39" width="12.2" height="12.2" rx="1.4" fill="#685a52"/><rect x="70" y="39" width="12.2" height="12.2" rx="1.4" fill="#685a52"/><path d="M19.6,5.8 C21.8,8.6 23.2,11.4 21.4,14.6 C20.6,16.2 21.2,17.8 22.8,17.4 C24.6,16.9 25.4,15.2 25.2,13.6 C27.6,16.4 28.2,20.4 26.2,23.6 C24.6,26 22,26.6 20.8,29.6 C16.4,28.2 11.6,25.4 11,20.2 C10.6,15.8 13.8,13.2 16.6,10.6 C18,9.2 19.2,7.8 19.6,5.8 Z" fill="#ff9474"/></g></svg>
<svg class="a" style="left:500.5px;top:848.5px" width="107.9" height="107" viewBox="0 0 107.9 107"><rect width="107.9" height="107" fill="url(#ibg)"/><rect x="0" y="0" width="107.9" height="1.8" fill="#8f8862"/><rect x="0" y="1.8" width="107.9" height="1.6" fill="#f3eee6"/><path d="M0,0 l5,0 l-5,3 Z M107.9,0 l-5,0 l5,3 Z" fill="#b3a98f" opacity="0.8"/><g transform="translate(55 52.2) scale(0.9866 0.9893)"><g filter="url(#b3)"><polygon points="37.32,15.46 15.46,37.32 -15.46,37.32 -37.32,15.46 -37.32,-15.46 -15.46,-37.32 15.46,-37.32 37.32,-15.46" fill="none" stroke="#ebe4d8" stroke-width="0.8" opacity="0.35"/><polygon points="37.4,0 26.45,26.45 0,37.4 -26.45,26.45 -37.4,0 -26.45,-26.45 -0,-37.4 26.45,-26.45" fill="#b3aa9a" stroke="#f4eee3" stroke-width="0.9" stroke-linejoin="round"/><polygon points="31.97,13.24 13.24,31.97 -13.24,31.97 -31.97,13.24 -31.97,-13.24 -13.24,-31.97 13.24,-31.97 31.97,-13.24" fill="url(#disc)" stroke="#f1e9de" stroke-width="0.5"/></g><g filter="url(#b5)"><path d="M-14.1,-13.4 C-14,-16 -12,-17 -10,-16.8 C-8,-18 -4,-18 -2,-18.6 C0,-20.4 4,-19.6 6.3,-17.5 C9,-19.4 13,-19.4 14.6,-17 C16,-15 15.6,-12 12.8,-10.1 C15,-8 16,-5 16.2,-1 C16.8,4 15.6,7 13.6,9.5 C12,13 10,15 8.3,16.1 C6,18 4,19.4 2.6,20.1 C0,19 -2.6,17.6 -4.3,16.1 C-6.4,14 -8,12 -9.2,10.3 C-11,9 -12.6,7 -13.3,5.4 C-15,3 -15.8,1.4 -15.4,-0.3 C-15,-2.4 -13.6,-3.6 -12.1,-3.6 C-11.4,-6 -11,-8 -11.3,-9.3 C-13,-10 -14,-11.6 -14.1,-13.4 Z" fill="#8a2c28"/><path d="M-14,-13.4 C-14,-16 -12,-17 -10,-16.8 C-8,-18 -4,-18 -2,-18.6 C0,-20.4 4,-19.6 6.3,-17.5 C9,-19.4 13,-19.4 14.6,-17 C16,-15 15.6,-12 12.8,-10.1 C9,-9 4,-9.6 0,-10.6 C-4,-9 -8,-8.6 -11.3,-9.3 C-13,-10 -14,-11.6 -14,-13.4 Z" fill="#b23636"/><path d="M0,-10.6 C5,-9.6 10,-9 12.8,-10 C15,-8 16,-5 16.2,-1 C16.8,4 15.6,7 13.6,9.5 C11,14 7,17.6 2.6,20 C2,12 2,2 0,-10.6 Z" fill="#9c342c"/><path d="M5,-2 C8,-3 10,0 9,4 C8,7 5,7 4,4 Z" fill="#c05a40" opacity="0.8"/><path d="M-12.1,-3.6 C-9,-6 -5,-7 -3,-4 C-1,2 1,10 2.6,20 C-2,18 -6,14 -9.2,10.3 C-12,8 -14,5 -15.4,-0.3 C-15,-2.4 -13.6,-3.6 -12.1,-3.6 Z" fill="#74343a"/><path d="M-6,9 C-4,13 0,17 2.4,19.6 C0,19 -4,16 -7,12 Z" fill="#5c3428"/><ellipse cx="-17" cy="-4.4" rx="0.7" ry="1.6" fill="#45241e"/><ellipse cx="-17.4" cy="6.7" rx="1.4" ry="0.9" fill="#45241e"/><ellipse cx="-17.4" cy="12.8" rx="0.8" ry="0.7" fill="#45241e"/><ellipse cx="17.3" cy="9.7" rx="0.9" ry="0.6" fill="#45241e"/><ellipse cx="-15.6" cy="9.6" rx="0.5" ry="0.5" fill="#45241e"/></g></g></svg>
<svg class="a" style="left:757.7px;top:848.4px" width="99.3" height="99.4" viewBox="0 0 99.3 99.4"><rect width="99.3" height="99.4" fill="url(#gbg)"/><g transform="translate(3 21.3)"><path d="M17.7,0 H85 Q88.4,0 88.4,3.4 V53.8 Q88.4,57.2 85,57.2 H34.9 Q31.5,57.2 31.5,53.8 V35.4 H17.7 A17.7,17.7 0 0 1 17.7,0 Z" fill="#3d2e26" filter="url(#b3)"/><polygon points="44.6,7.5 46.6,11.35 50.88,12.06 47.83,15.15 48.48,19.44 44.6,17.5 40.72,19.44 41.37,15.15 38.32,12.06 42.6,11.35" fill="#ff7436" stroke="#ff7436" stroke-width="1" stroke-linejoin="round"/><rect x="54.4" y="7.4" width="12.2" height="12.2" rx="1.4" fill="#685a52"/><rect x="70" y="7.4" width="12.2" height="12.2" rx="1.4" fill="#685a52"/><rect x="38.4" y="23.2" width="12.399999999999999" height="12.399999999999999" rx="1" fill="#ff7a3a"/><rect x="54.4" y="23.3" width="12.2" height="12.2" rx="1.4" fill="#685a52"/><rect x="70" y="23.3" width="12.2" height="12.2" rx="1.4" fill="#685a52"/><rect x="38.5" y="39" width="12.2" height="12.2" rx="1.4" fill="#685a52"/><polygon points="60.5,39.1 62.5,42.95 66.78,43.66 63.73,46.75 64.38,51.04 60.5,49.1 56.62,51.04 57.27,46.75 54.22,43.66 58.5,42.95" fill="#ff7436" stroke="#ff7436" stroke-width="1" stroke-linejoin="round"/><rect x="70" y="39" width="12.2" height="12.2" rx="1.4" fill="#685a52"/><path d="M19.6,5.8 C21.8,8.6 23.2,11.4 21.4,14.6 C20.6,16.2 21.2,17.8 22.8,17.4 C24.6,16.9 25.4,15.2 25.2,13.6 C27.6,16.4 28.2,20.4 26.2,23.6 C24.6,26 22,26.6 20.8,29.6 C16.4,28.2 11.6,25.4 11,20.2 C10.6,15.8 13.8,13.2 16.6,10.6 C18,9.2 19.2,7.8 19.6,5.8 Z" fill="#ff9474"/></g></svg>
<svg class="a" style="left:502.2px;top:955.3px" width="104.4" height="105.2" viewBox="0 0 104.4 105.2"><rect width="104.4" height="105.2" fill="url(#ibg)"/><rect x="-2" y="0" width="108.4" height="1" fill="#c5bca6"/><rect x="0" y="1" width="104.4" height="1.2" fill="#e9e2d4"/><path d="M86,5 c4,3 8,3 12,1 M88,8 c4,2 7,2 10,0 M97,3 c-3,6 -2,12 2,16" fill="none" stroke="#e6c3a6" stroke-width="1.3" opacity="0.8" filter="url(#b5)"/><g transform="translate(52.5 51.35) scale(0.9599 0.9693)"><g filter="url(#b3)"><polygon points="37.32,15.46 15.46,37.32 -15.46,37.32 -37.32,15.46 -37.32,-15.46 -15.46,-37.32 15.46,-37.32 37.32,-15.46" fill="none" stroke="#ebe4d8" stroke-width="0.8" opacity="0.35"/><polygon points="37.4,0 26.45,26.45 0,37.4 -26.45,26.45 -37.4,0 -26.45,-26.45 -0,-37.4 26.45,-26.45" fill="#b3aa9a" stroke="#f4eee3" stroke-width="0.9" stroke-linejoin="round"/><polygon points="31.97,13.24 13.24,31.97 -13.24,31.97 -31.97,13.24 -31.97,-13.24 -13.24,-31.97 13.24,-31.97 31.97,-13.24" fill="url(#disc)" stroke="#f1e9de" stroke-width="0.5"/></g><g filter="url(#b5)"><polygon points="0,-18.6 3,-14 5.6,-10 8,-5 9.1,0 8,6 6,12 3,17 0,19 -3.6,17 -6,11 -8,4 -8.5,-2 -7,-9 -3,-14" fill="#e2b858" /><polygon points="0,-18 2.6,-13.6 2,-7 0,-5 -2.4,-8 -2.4,-13.6" fill="#fffdf6" /><polygon points="-6.6,-8.6 -3,-11 -1,-5 -1.6,6 -3,13 -5.6,9 -7.6,2" fill="#f8ecd6" /><polygon points="1.6,-4 5,-9 8,-3 7.4,5 4,13 2,8" fill="#f3dfb6" /><polygon points="-0.6,-4 1,-4 1.8,8 0,17 -1.6,9" fill="#d9a83a" /><polygon points="-7,-1 -4.6,-3 -3.6,2 -6,3.6" fill="#ffffff" /><polygon points="3.4,-1 6.6,-3.6 6.6,2 4,4" fill="#ffffff" /><polygon points="-1,9 0.6,7 1,12 -0.6,14" fill="#fff8e8" /><path d="M-6.6,-8.6 L-1,-5 L2,-7 L5.4,-9.6" fill="none" stroke="#6e6a3a" stroke-width="0.7"/></g></g></svg>
<svg class="a" style="left:757.7px;top:955.5px" width="99.3" height="98.5" viewBox="0 0 99.3 98.5"><rect width="99.3" height="98.5" fill="url(#gbg)"/><g transform="translate(3.8 17)"><path d="M17.7,0 H85 Q88.4,0 88.4,3.4 V53.8 Q88.4,57.2 85,57.2 H34.9 Q31.5,57.2 31.5,53.8 V35.4 H17.7 A17.7,17.7 0 0 1 17.7,0 Z" fill="#3d2e26" filter="url(#b3)"/><polygon points="44.6,7.5 46.6,11.35 50.88,12.06 47.83,15.15 48.48,19.44 44.6,17.5 40.72,19.44 41.37,15.15 38.32,12.06 42.6,11.35" fill="#f8d818" stroke="#f8d818" stroke-width="1" stroke-linejoin="round"/><rect x="54.4" y="7.4" width="12.2" height="12.2" rx="1.4" fill="#685a52"/><rect x="70" y="7.4" width="12.2" height="12.2" rx="1.4" fill="#685a52"/><rect x="38.4" y="23.2" width="12.399999999999999" height="12.399999999999999" rx="1" fill="#f9da22"/><rect x="54.4" y="23.3" width="12.2" height="12.2" rx="1.4" fill="#685a52"/><rect x="70" y="23.3" width="12.2" height="12.2" rx="1.4" fill="#685a52"/><polygon points="44.6,39.1 46.6,42.95 50.88,43.66 47.83,46.75 48.48,51.04 44.6,49.1 40.72,51.04 41.37,46.75 38.32,43.66 42.6,42.95" fill="#f8d818" stroke="#f8d818" stroke-width="1" stroke-linejoin="round"/><rect x="54.4" y="39" width="12.2" height="12.2" rx="1.4" fill="#685a52"/><rect x="70" y="39" width="12.2" height="12.2" rx="1.4" fill="#685a52"/><polygon points="20.6,5.6 9.6,19.2 17.2,19.6 14.2,29.6 28.6,14.4 19.6,14.6 21.2,5.8" fill="#f4ee62" stroke="#f4ee62" stroke-width="0.6" stroke-linejoin="round"/></g></svg>
<svg class="a" style="left:500.2px;top:1060.3px" width="108.8" height="109.7" viewBox="0 0 108.8 109.7"><rect width="108.8" height="109.7" fill="url(#ibg)"/><g transform="translate(-6 56)" fill="none" stroke="#e8e1d3" stroke-width="1.8" opacity="0.6" filter="url(#b8)"><path d="M2,0 C12,-4 16,-14 12,-18 C8,-21 3,-18 4,-13"/><path d="M0,22 C10,18 18,24 16,32 C14,38 6,38 4,34"/><path d="M12,4 C20,8 22,2 30,6"/><path d="M30,44 C50,30 80,32 88,44"/></g><g transform="translate(54.1 51.35) scale(0.9786 0.9853)"><g filter="url(#b3)"><polygon points="37.32,15.46 15.46,37.32 -15.46,37.32 -37.32,15.46 -37.32,-15.46 -15.46,-37.32 15.46,-37.32 37.32,-15.46" fill="none" stroke="#ebe4d8" stroke-width="0.8" opacity="0.35"/><polygon points="37.4,0 26.45,26.45 0,37.4 -26.45,26.45 -37.4,0 -26.45,-26.45 -0,-37.4 26.45,-26.45" fill="#b3aa9a" stroke="#f4eee3" stroke-width="0.9" stroke-linejoin="round"/><polygon points="31.97,13.24 13.24,31.97 -13.24,31.97 -31.97,13.24 -31.97,-13.24 -13.24,-31.97 13.24,-31.97 31.97,-13.24" fill="url(#disc)" stroke="#f1e9de" stroke-width="0.5"/></g><g filter="url(#b5)"><polygon points="-18,-3.1 -13.1,-9.2 -8.6,-11.7 -3.7,-9.2 0,-8.4 5.7,-12.1 10.6,-9.2 15.5,-5.1 16.7,-0.2 17.5,5.1 14.7,10.4 9,12.8 5.7,9.6 0.8,12 -6.6,13.2 -10.7,8.3 -15.6,4.7" fill="#22893a" stroke="#22893a" stroke-width="1.6" stroke-linejoin="round"/><path d="M-15,-4 C-13,-8 -9,-11 -5,-9 C-2,-7 -2,-3 -5,-1 C-9,1 -14,0 -15,-4 Z" fill="#52a85a"/><path d="M0,-7 C4,-12 10,-10 13,-6 C15,-2 12,2 8,3 C3,3 -1,-2 0,-7 Z" fill="#36a04a"/><path d="M-6,0 C-2,-3 3,-1 4,3 C5,7 1,10 -3,9 C-6,8 -8,4 -6,0 Z" fill="#4fb866"/><path d="M4,3 C8,1 13,3 13,7 C12,10 8,11 5,9 Z" fill="#4aa858"/><path d="M-11,8 C-9,6 -5,9 -4,12.6 C-6,13.6 -10,12 -11,8 Z" fill="#0d3216"/><path d="M10,8 C13,6 16,5 17,7 C16,9.6 13,11 10,11.6 Z" fill="#7aaaa6"/><path d="M-17,-2 C-16,2 -13,5 -10,7 C-13,7 -17,3 -17,-2 Z" fill="#14602a"/></g></g></svg>
<svg class="a" style="left:757.7px;top:1060.1px" width="99.3" height="99.4" viewBox="0 0 99.3 99.4"><rect width="99.3" height="99.4" fill="url(#gbg)"/><g transform="translate(5.5 20.5)"><path d="M17.7,0 H85 Q88.4,0 88.4,3.4 V53.8 Q88.4,57.2 85,57.2 H34.9 Q31.5,57.2 31.5,53.8 V35.4 H17.7 A17.7,17.7 0 0 1 17.7,0 Z" fill="#3d2e26" filter="url(#b3)"/><polygon points="44.6,7.5 46.6,11.35 50.88,12.06 47.83,15.15 48.48,19.44 44.6,17.5 40.72,19.44 41.37,15.15 38.32,12.06 42.6,11.35" fill="#3fd822" stroke="#3fd822" stroke-width="1" stroke-linejoin="round"/><rect x="54.4" y="7.4" width="12.2" height="12.2" rx="1.4" fill="#685a52"/><rect x="70" y="7.4" width="12.2" height="12.2" rx="1.4" fill="#685a52"/><rect x="38.4" y="23.2" width="12.399999999999999" height="12.399999999999999" rx="1" fill="#46d820"/><rect x="54.4" y="23.3" width="12.2" height="12.2" rx="1.4" fill="#685a52"/><rect x="70" y="23.3" width="12.2" height="12.2" rx="1.4" fill="#685a52"/><polygon points="44.6,39.1 46.6,42.95 50.88,43.66 47.83,46.75 48.48,51.04 44.6,49.1 40.72,51.04 41.37,46.75 38.32,43.66 42.6,42.95" fill="#3fd822" stroke="#3fd822" stroke-width="1" stroke-linejoin="round"/><rect x="54.4" y="39" width="12.2" height="12.2" rx="1.4" fill="#685a52"/><rect x="70" y="39" width="12.2" height="12.2" rx="1.4" fill="#685a52"/><circle cx="19.5" cy="17.6" r="3.4" fill="#72e650"/><g transform="rotate(0 19.5 17.6)"><path d="M17.1,11.2 C24.1,5.8 32.1,10.6 31.9,23 C28.9,18 23.9,14.6 17.1,11.2 Z" fill="#72e650"/></g><g transform="rotate(120 19.5 17.6)"><path d="M17.1,11.2 C24.1,5.8 32.1,10.6 31.9,23 C28.9,18 23.9,14.6 17.1,11.2 Z" fill="#72e650"/></g><g transform="rotate(240 19.5 17.6)"><path d="M17.1,11.2 C24.1,5.8 32.1,10.6 31.9,23 C28.9,18 23.9,14.6 17.1,11.2 Z" fill="#72e650"/></g></g></svg>
<svg class="a" style="left:500.3px;top:1166px" width="106.3" height="107" viewBox="0 0 106.3 107"><rect width="106.3" height="107" fill="url(#ibg)"/><g transform="translate(51.8 51.65) scale(0.9786 0.9853)"><g filter="url(#b3)"><polygon points="37.32,15.46 15.46,37.32 -15.46,37.32 -37.32,15.46 -37.32,-15.46 -15.46,-37.32 15.46,-37.32 37.32,-15.46" fill="none" stroke="#ebe4d8" stroke-width="0.8" opacity="0.35"/><polygon points="37.4,0 26.45,26.45 0,37.4 -26.45,26.45 -37.4,0 -26.45,-26.45 -0,-37.4 26.45,-26.45" fill="#b3aa9a" stroke="#f4eee3" stroke-width="0.9" stroke-linejoin="round"/><polygon points="31.97,13.24 13.24,31.97 -13.24,31.97 -31.97,13.24 -31.97,-13.24 -13.24,-31.97 13.24,-31.97 31.97,-13.24" fill="url(#disc)" stroke="#f1e9de" stroke-width="0.5"/></g><g filter="url(#b5)"><polygon points="0.5,-18.1 2.7,-14.4 7,-11.9 11.4,-6.2 15.3,-1.7 16.2,8.9 13.1,11.4 11.4,15 7,18.3 2.7,19.9 -3.9,18.3 -6.1,15 -11.3,12.6 -16.5,7.7 -14.8,-1.3 -13,-7 -10.4,-4.6 -7.8,-9.5 -4.3,-12.3 -1.7,-16" fill="#7f93ab" /><polygon points="-13,-6.4 -10.6,-3.6 -9.6,9 -13.6,7" fill="#b7c9dc" /><polygon points="-7.6,-9 -4.6,-11.6 -3.6,10 -7,12" fill="#98adc4" /><polygon points="-1.6,-15.4 0.6,-17.4 2.4,-13.6 2,1 -1,-1" fill="#dfe9f3" /><polygon points="4,-11 7.4,-10.6 9,10 5.4,12" fill="#a9bdd2" /><polygon points="10,-5 13.6,-2.4 14.8,8 11.4,10" fill="#b7c9dc" /><polygon points="14,-1.6 15.6,-0.6 15.8,8.4 14.4,9" fill="#8f9fd0" /><polygon points="0.4,0 3,-2.6 5,-1 5.4,9 2.6,12.4 0.4,8" fill="#eef5fb" /><polygon points="0.8,-1.4 2.6,-2.4 3,2 1,3" fill="#ffffff" /><polygon points="-5,3 -3.4,1.6 -3,6 -4.6,7" fill="#eef5fb" /><polygon points="-10.6,7 -8.6,6 -8.6,10 -10.4,10.6" fill="#eef5fb" /><polygon points="-2.6,-14.6 0,-17 -0.6,-12 -3.6,-11" fill="#f4f4f0" /><polygon points="-9,11 -3,12.6 -2,18 -7,14.6" fill="#66788e" /><polygon points="3,14 9,11.6 8,16.6 3,19.4" fill="#70839a" /></g></g></svg>
<svg class="a" style="left:757.7px;top:1166.3px" width="99.3" height="99.7" viewBox="0 0 99.3 99.7"><rect width="99.3" height="99.7" fill="url(#gbg)"/><g transform="translate(2.5 21.7)"><path d="M17.7,0 H85 Q88.4,0 88.4,3.4 V53.8 Q88.4,57.2 85,57.2 H34.9 Q31.5,57.2 31.5,53.8 V35.4 H17.7 A17.7,17.7 0 0 1 17.7,0 Z" fill="#3d2e26" filter="url(#b3)"/><polygon points="44.6,7.5 46.6,11.35 50.88,12.06 47.83,15.15 48.48,19.44 44.6,17.5 40.72,19.44 41.37,15.15 38.32,12.06 42.6,11.35" fill="#dac4f0" stroke="#dac4f0" stroke-width="1" stroke-linejoin="round"/><rect x="54.4" y="7.4" width="12.2" height="12.2" rx="1.4" fill="#685a52"/><rect x="70" y="7.4" width="12.2" height="12.2" rx="1.4" fill="#685a52"/><rect x="38.4" y="23.2" width="12.399999999999999" height="12.399999999999999" rx="1" fill="#dcc4f2"/><rect x="54.4" y="23.3" width="12.2" height="12.2" rx="1.4" fill="#685a52"/><rect x="70" y="23.3" width="12.2" height="12.2" rx="1.4" fill="#685a52"/><polygon points="44.6,39.1 46.6,42.95 50.88,43.66 47.83,46.75 48.48,51.04 44.6,49.1 40.72,51.04 41.37,46.75 38.32,43.66 42.6,42.95" fill="#dac4f0" stroke="#dac4f0" stroke-width="1" stroke-linejoin="round"/><rect x="54.4" y="39" width="12.2" height="12.2" rx="1.4" fill="#685a52"/><rect x="70" y="39" width="12.2" height="12.2" rx="1.4" fill="#685a52"/><polygon points="18.9,4.9 21.04,12.33 26.11,10.29 24.07,15.36 31.5,17.5 24.07,19.64 26.11,24.71 21.04,22.67 18.9,30.1 16.76,22.67 11.69,24.71 13.73,19.64 6.3,17.5 13.73,15.36 11.69,10.29 16.76,12.33" fill="#ddd0f6"/></g></svg>
<svg class="a" style="left:500.5px;top:1273px" width="103.2" height="105.4" viewBox="0 0 103.2 105.4"><rect width="103.2" height="105.4" fill="url(#ibg)"/><g transform="translate(-6 62)" fill="none" stroke="#d9c8b6" stroke-width="1.3" opacity="0.6" filter="url(#b8)"><path d="M2,0 C12,-4 16,-14 12,-18 C8,-21 3,-18 4,-13"/><path d="M0,22 C10,18 18,24 16,32 C14,38 6,38 4,34"/><path d="M12,4 C20,8 22,2 30,6"/><path d="M30,44 C50,30 80,32 88,44"/></g><g transform="translate(50.7 51.9) scale(0.9358 0.9866)"><g filter="url(#b3)"><polygon points="37.32,15.46 15.46,37.32 -15.46,37.32 -37.32,15.46 -37.32,-15.46 -15.46,-37.32 15.46,-37.32 37.32,-15.46" fill="none" stroke="#ebe4d8" stroke-width="0.8" opacity="0.35"/><polygon points="37.4,0 26.45,26.45 0,37.4 -26.45,26.45 -37.4,0 -26.45,-26.45 -0,-37.4 26.45,-26.45" fill="#b3aa9a" stroke="#f4eee3" stroke-width="0.9" stroke-linejoin="round"/><polygon points="31.97,13.24 13.24,31.97 -13.24,31.97 -31.97,13.24 -31.97,-13.24 -13.24,-31.97 13.24,-31.97 31.97,-13.24" fill="url(#disc)" stroke="#f1e9de" stroke-width="0.5"/></g><g filter="url(#b5)"><polygon points="0.5,-18.1 2.7,-14.4 7,-11.9 11.4,-6.2 15.3,-1.7 16.2,8.9 13.1,11.4 11.4,15 7,18.3 2.7,19.9 -3.9,18.3 -6.1,15 -11.3,12.6 -16.5,7.7 -14.8,-1.3 -13,-7 -10.4,-4.6 -7.8,-9.5 -4.3,-12.3 -1.7,-16" fill="#332b28" /><polygon points="-13,-6.4 -10.6,-3.6 -9.6,9 -13.6,7" fill="#5b534e" /><polygon points="-7.6,-9 -4.6,-11.6 -3.6,10 -7,12" fill="#463f3b" /><polygon points="-1.6,-15.4 0.6,-17.4 2.4,-13.6 2,1 -1,-1" fill="#77706a" /><polygon points="4,-11 7.4,-10.6 9,10 5.4,12" fill="#524a46" /><polygon points="10,-5 13.6,-2.4 14.8,8 11.4,10" fill="#5b534e" /><polygon points="14,-1.6 15.6,-0.6 15.8,8.4 14.4,9" fill="#3b3431" /><polygon points="0.4,0 3,-2.6 5,-1 5.4,9 2.6,12.4 0.4,8" fill="#c9c4bd" /><polygon points="0.8,-1.4 2.6,-2.4 3,2 1,3" fill="#ffffff" /><polygon points="-5,3 -3.4,1.6 -3,6 -4.6,7" fill="#c9c4bd" /><polygon points="-10.6,7 -8.6,6 -8.6,10 -10.4,10.6" fill="#c9c4bd" /><polygon points="-2.6,-14.6 0,-17 -0.6,-12 -3.6,-11" fill="#e6e2da" /><polygon points="-9,11 -3,12.6 -2,18 -7,14.6" fill="#1c1715" /><polygon points="3,14 9,11.6 8,16.6 3,19.4" fill="#241e1b" /></g></g></svg>
<svg class="a" style="left:757.7px;top:1273px" width="99.3" height="98.8" viewBox="0 0 99.3 98.8"><rect width="99.3" height="98.8" fill="url(#gbg)"/><g transform="translate(3.8 17.3)"><path d="M17.7,0 H85 Q88.4,0 88.4,3.4 V53.8 Q88.4,57.2 85,57.2 H34.9 Q31.5,57.2 31.5,53.8 V35.4 H17.7 A17.7,17.7 0 0 1 17.7,0 Z" fill="#3d2e26" filter="url(#b3)"/><polygon points="44.6,7.5 46.6,11.35 50.88,12.06 47.83,15.15 48.48,19.44 44.6,17.5 40.72,19.44 41.37,15.15 38.32,12.06 42.6,11.35" fill="#dac4f0" stroke="#dac4f0" stroke-width="1" stroke-linejoin="round"/><rect x="54.4" y="7.4" width="12.2" height="12.2" rx="1.4" fill="#685a52"/><rect x="70" y="7.4" width="12.2" height="12.2" rx="1.4" fill="#685a52"/><rect x="38.4" y="23.2" width="12.399999999999999" height="12.399999999999999" rx="1" fill="#dcc4f2"/><rect x="54.4" y="23.3" width="12.2" height="12.2" rx="1.4" fill="#685a52"/><rect x="70" y="23.3" width="12.2" height="12.2" rx="1.4" fill="#685a52"/><rect x="38.5" y="39" width="12.2" height="12.2" rx="1.4" fill="#685a52"/><rect x="54.4" y="39" width="12.2" height="12.2" rx="1.4" fill="#685a52"/><rect x="70" y="39" width="12.2" height="12.2" rx="1.4" fill="#685a52"/><polygon points="18.9,4.9 21.04,12.33 26.11,10.29 24.07,15.36 31.5,17.5 24.07,19.64 26.11,24.71 21.04,22.67 18.9,30.1 16.76,22.67 11.69,24.71 13.73,19.64 6.3,17.5 13.73,15.36 11.69,10.29 16.76,12.33" fill="#ddd0f6"/></g></svg>
<svg class="a" style="left:500.5px;top:1378.4px" width="110.1" height="106.1" viewBox="0 0 110.1 106.1"><rect width="110.1" height="106.1" fill="url(#ibg)"/><rect width="110.1" height="106.1" fill="url(#tan)"/><g transform="translate(-4 4)" fill="none" stroke="#dcc0ac" stroke-width="1.3" opacity="0.8" filter="url(#b5)"><path d="M0,2 C8,4 14,12 12,22 C11,28 6,30 2,28"/><path d="M14,8 C20,6 26,8 28,12"/><path d="M16,12 C20,11 24,12 26,15"/></g><g transform="translate(55 53.45) scale(1.0053 0.9853)"><g filter="url(#b3)"><polygon points="37.32,15.46 15.46,37.32 -15.46,37.32 -37.32,15.46 -37.32,-15.46 -15.46,-37.32 15.46,-37.32 37.32,-15.46" fill="none" stroke="#ebe4d8" stroke-width="0.8" opacity="0.35"/><polygon points="37.4,0 26.45,26.45 0,37.4 -26.45,26.45 -37.4,0 -26.45,-26.45 -0,-37.4 26.45,-26.45" fill="#b3aa9a" stroke="#f4eee3" stroke-width="0.9" stroke-linejoin="round"/><polygon points="31.97,13.24 13.24,31.97 -13.24,31.97 -31.97,13.24 -31.97,-13.24 -13.24,-31.97 13.24,-31.97 31.97,-13.24" fill="url(#disc)" stroke="#f1e9de" stroke-width="0.5"/></g><g filter="url(#b5)"><path d="M-1.1,-11.6 C0.5,-8 3,-3 7,0.5 C11,3 15,4.5 19,5.7 C16,9 11,11.5 6,12.3 C2,13.2 -2,13.4 -5,12.6 C-9,11.6 -13,9.5 -15.5,7.5 C-17,6.5 -18,5.6 -18.6,4.9 C-14,3 -10,0 -7,-3.5 C-4.5,-6.6 -2.6,-9 -1.1,-11.6 Z" fill="#b4b9bd"/><path d="M-1.1,-11.2 C0.2,-7.6 2.4,-3 6,0.4 C9,2.6 12,3.8 15,4.8 C12,7.6 8.4,9.4 4.4,10.2 C1.4,10.9 -1.6,11 -4,10.4 C-7.4,9.6 -11,7.6 -14.6,5 C-11,3 -8.4,0.4 -6,-3 C-4,-6 -2.4,-8.6 -1.1,-11.2 Z" fill="#e9ecee"/><path d="M-1.1,-11 C-0.2,-7 1.6,-1 1.4,8 C-2,9 -5,7 -7,4 C-5,0 -3,-5 -1.1,-11 Z" fill="#ffffff"/><path d="M2,-6 C4,-2 8,2 14,4.6 C10,6 6,4 2,-6 Z" fill="#cfd4d7"/></g></g></svg>
<svg class="a" style="left:757.7px;top:1378.8px" width="99.3" height="99.2" viewBox="0 0 99.3 99.2"><rect width="99.3" height="99.2" fill="url(#gbg)"/><g transform="translate(5.5 19.4)"><path d="M17.7,0 H85 Q88.4,0 88.4,3.4 V53.8 Q88.4,57.2 85,57.2 H34.9 Q31.5,57.2 31.5,53.8 V35.4 H17.7 A17.7,17.7 0 0 1 17.7,0 Z" fill="#3d2e26" filter="url(#b3)"/><polygon points="44.6,7.5 46.6,11.35 50.88,12.06 47.83,15.15 48.48,19.44 44.6,17.5 40.72,19.44 41.37,15.15 38.32,12.06 42.6,11.35" fill="#dac4f0" stroke="#dac4f0" stroke-width="1" stroke-linejoin="round"/><rect x="54.4" y="7.4" width="12.2" height="12.2" rx="1.4" fill="#685a52"/><rect x="70" y="7.4" width="12.2" height="12.2" rx="1.4" fill="#685a52"/><rect x="38.5" y="23.3" width="12.2" height="12.2" rx="1.4" fill="#685a52"/><rect x="54.3" y="23.2" width="12.399999999999999" height="12.399999999999999" rx="1" fill="#dcc4f2"/><rect x="70" y="23.3" width="12.2" height="12.2" rx="1.4" fill="#685a52"/><rect x="38.5" y="39" width="12.2" height="12.2" rx="1.4" fill="#685a52"/><rect x="54.4" y="39" width="12.2" height="12.2" rx="1.4" fill="#685a52"/><rect x="70" y="39" width="12.2" height="12.2" rx="1.4" fill="#685a52"/><polygon points="18.9,4.9 21.04,12.33 26.11,10.29 24.07,15.36 31.5,17.5 24.07,19.64 26.11,24.71 21.04,22.67 18.9,30.1 16.76,22.67 11.69,24.71 13.73,19.64 6.3,17.5 13.73,15.36 11.69,10.29 16.76,12.33" fill="#ddd0f6"/></g></svg>
<svg class="a" style="left:500.5px;top:1484px" width="110.5" height="107.5" viewBox="0 0 110.5 107.5"><rect width="110.5" height="107.5" fill="url(#ibg)"/><g transform="translate(55 52.3) scale(0.9973 0.9893)"><g filter="url(#b3)"><polygon points="37.32,15.46 15.46,37.32 -15.46,37.32 -37.32,15.46 -37.32,-15.46 -15.46,-37.32 15.46,-37.32 37.32,-15.46" fill="none" stroke="#ebe4d8" stroke-width="0.8" opacity="0.35"/><polygon points="37.4,0 26.45,26.45 0,37.4 -26.45,26.45 -37.4,0 -26.45,-26.45 -0,-37.4 26.45,-26.45" fill="#b3aa9a" stroke="#f4eee3" stroke-width="0.9" stroke-linejoin="round"/><polygon points="31.97,13.24 13.24,31.97 -13.24,31.97 -31.97,13.24 -31.97,-13.24 -13.24,-31.97 13.24,-31.97 31.97,-13.24" fill="url(#disc)" stroke="#f1e9de" stroke-width="0.5"/></g><g filter="url(#b5)"><circle cx="-5.5" cy="-16.7" r="4.8" fill="#b5aba6" opacity="0.8"/><circle cx="6.5" cy="-13.2" r="4.9" fill="#b5aba6" opacity="0.8"/><circle cx="1.4" cy="-7.7" r="4.9" fill="#b5aba6" opacity="0.8"/><circle cx="-11" cy="-3.9" r="4.8" fill="#b5aba6" opacity="0.8"/><circle cx="8.2" cy="-3" r="5.1" fill="#b5aba6" opacity="0.8"/><circle cx="-5.5" cy="0.4" r="5" fill="#b5aba6" opacity="0.8"/><circle cx="16.3" cy="0.8" r="4.9" fill="#b5aba6" opacity="0.8"/><circle cx="8.2" cy="5.5" r="5.3" fill="#b5aba6" opacity="0.8"/><circle cx="-16.5" cy="8" r="5.2" fill="#b5aba6" opacity="0.8"/><circle cx="-5" cy="12.3" r="5.5" fill="#b5aba6" opacity="0.8"/><circle cx="15.9" cy="17.4" r="5.7" fill="#b5aba6" opacity="0.8"/><circle cx="-6" cy="-17.5" r="4.3" fill="#1c1415"/><circle cx="-7.29" cy="-19" r="1.2" fill="#8a8084"/><path d="M-9.01,-16 A3.44,3.44 0 0 0 -2.99,-16" fill="none" stroke="#5a4e50" stroke-width="0.7"/><circle cx="6" cy="-14" r="4.4" fill="#1c1415"/><circle cx="4.68" cy="-15.54" r="1.23" fill="#8a8084"/><path d="M2.92,-12.46 A3.52,3.52 0 0 0 9.08,-12.46" fill="none" stroke="#5a4e50" stroke-width="0.7"/><circle cx="0.9" cy="-8.5" r="4.4" fill="#1c1415"/><circle cx="-0.42" cy="-10.04" r="1.23" fill="#8a8084"/><path d="M-2.18,-6.96 A3.52,3.52 0 0 0 3.98,-6.96" fill="none" stroke="#5a4e50" stroke-width="0.7"/><circle cx="-11.5" cy="-4.7" r="4.3" fill="#1c1415"/><circle cx="-12.79" cy="-6.21" r="1.2" fill="#8a8084"/><path d="M-14.51,-3.2 A3.44,3.44 0 0 0 -8.49,-3.2" fill="none" stroke="#5a4e50" stroke-width="0.7"/><circle cx="7.7" cy="-3.8" r="4.6" fill="#1c1415"/><circle cx="6.32" cy="-5.41" r="1.29" fill="#8a8084"/><path d="M4.48,-2.19 A3.68,3.68 0 0 0 10.92,-2.19" fill="none" stroke="#5a4e50" stroke-width="0.7"/><circle cx="-6" cy="-0.4" r="4.5" fill="#1c1415"/><circle cx="-7.35" cy="-1.98" r="1.26" fill="#8a8084"/><path d="M-9.15,1.17 A3.6,3.6 0 0 0 -2.85,1.17" fill="none" stroke="#5a4e50" stroke-width="0.7"/><circle cx="15.8" cy="0" r="4.4" fill="#1c1415"/><circle cx="14.48" cy="-1.54" r="1.23" fill="#8a8084"/><path d="M12.72,1.54 A3.52,3.52 0 0 0 18.88,1.54" fill="none" stroke="#5a4e50" stroke-width="0.7"/><circle cx="7.7" cy="4.7" r="4.8" fill="#1c1415"/><circle cx="6.26" cy="3.02" r="1.34" fill="#8a8084"/><path d="M4.34,6.38 A3.84,3.84 0 0 0 11.06,6.38" fill="none" stroke="#5a4e50" stroke-width="0.7"/><circle cx="-17" cy="7.2" r="4.7" fill="#1c1415"/><circle cx="-18.41" cy="5.55" r="1.32" fill="#8a8084"/><path d="M-20.29,8.85 A3.76,3.76 0 0 0 -13.71,8.85" fill="none" stroke="#5a4e50" stroke-width="0.7"/><circle cx="-5.5" cy="11.5" r="5" fill="#1c1415"/><circle cx="-7" cy="9.75" r="1.4" fill="#8a8084"/><path d="M-9,13.25 A4,4 0 0 0 -2,13.25" fill="none" stroke="#5a4e50" stroke-width="0.7"/><circle cx="15.4" cy="16.6" r="5.2" fill="#1c1415"/><circle cx="13.84" cy="14.78" r="1.46" fill="#8a8084"/><path d="M11.76,18.42 A4.16,4.16 0 0 0 19.04,18.42" fill="none" stroke="#5a4e50" stroke-width="0.7"/></g></g></svg>
<svg class="a" style="left:757.7px;top:1483.7px" width="99.3" height="99.8" viewBox="0 0 99.3 99.8"><rect width="99.3" height="99.8" fill="url(#gbg)"/><g transform="translate(5.5 20.9)"><path d="M17.7,0 H85 Q88.4,0 88.4,3.4 V53.8 Q88.4,57.2 85,57.2 H34.9 Q31.5,57.2 31.5,53.8 V35.4 H17.7 A17.7,17.7 0 0 1 17.7,0 Z" fill="#3d2e26" filter="url(#b3)"/><polygon points="44.6,7.5 46.6,11.35 50.88,12.06 47.83,15.15 48.48,19.44 44.6,17.5 40.72,19.44 41.37,15.15 38.32,12.06 42.6,11.35" fill="#f8d818" stroke="#f8d818" stroke-width="1" stroke-linejoin="round"/><rect x="54.4" y="7.4" width="12.2" height="12.2" rx="1.4" fill="#685a52"/><polygon points="76.1,7.5 78.1,11.35 82.38,12.06 79.33,15.15 79.98,19.44 76.1,17.5 72.22,19.44 72.87,15.15 69.82,12.06 74.1,11.35" fill="#f8d818" stroke="#f8d818" stroke-width="1" stroke-linejoin="round"/><rect x="38.5" y="23.3" width="12.2" height="12.2" rx="1.4" fill="#685a52"/><rect x="54.3" y="23.2" width="12.399999999999999" height="12.399999999999999" rx="1" fill="#f9da22"/><rect x="70" y="23.3" width="12.2" height="12.2" rx="1.4" fill="#685a52"/><rect x="38.5" y="39" width="12.2" height="12.2" rx="1.4" fill="#685a52"/><rect x="54.4" y="39" width="12.2" height="12.2" rx="1.4" fill="#685a52"/><rect x="70" y="39" width="12.2" height="12.2" rx="1.4" fill="#685a52"/><polygon points="20.6,5.6 9.6,19.2 17.2,19.6 14.2,29.6 28.6,14.4 19.6,14.6 21.2,5.8" fill="#f4ee62" stroke="#f4ee62" stroke-width="0.6" stroke-linejoin="round"/></g></svg>
<svg class="a" style="left:500px;top:1591.2px" width="111" height="106.8" viewBox="0 0 111 106.8"><rect width="111" height="106.8" fill="url(#ibg)"/><rect x="0" y="0" width="111" height="1" fill="#c5bca6"/><rect x="0" y="1" width="111" height="1.2" fill="#e9e2d4"/><path d="M0,0 l5,0 l-5,3 Z M111,0 l-5,0 l5,3 Z" fill="#b3a98f" opacity="0.8"/><g transform="translate(55.7 51.4) scale(0.9973 0.9679)"><g filter="url(#b3)"><polygon points="37.32,15.46 15.46,37.32 -15.46,37.32 -37.32,15.46 -37.32,-15.46 -15.46,-37.32 15.46,-37.32 37.32,-15.46" fill="none" stroke="#ebe4d8" stroke-width="0.8" opacity="0.35"/><polygon points="37.4,0 26.45,26.45 0,37.4 -26.45,26.45 -37.4,0 -26.45,-26.45 -0,-37.4 26.45,-26.45" fill="#b3aa9a" stroke="#f4eee3" stroke-width="0.9" stroke-linejoin="round"/><polygon points="31.97,13.24 13.24,31.97 -13.24,31.97 -31.97,13.24 -31.97,-13.24 -13.24,-31.97 13.24,-31.97 31.97,-13.24" fill="url(#disc)" stroke="#f1e9de" stroke-width="0.5"/></g><g filter="url(#b5)"><polygon points="-11,-15.3 -7,-13.6 -4,-9 -1.3,-8.3 2,-10 6,-13 11.4,-14.5 15,-13.4 16.7,-10.4 15.6,-5 14.3,-1 17,1 20,4.7 18,9 13.4,12.9 8,13 2,14.5 -2,16 -6.2,16.6 -10,16 -14.3,13.3 -17,9 -19.2,3.9 -16,0 -17,-4 -18.4,-10 -15,-13.6" fill="#86201e" /><polygon points="-18,-10 -15,-13.4 -11,-15 -7.6,-13 -5,-7 -8,-2 -14,-3" fill="#a8322a" /><polygon points="3,-10 7,-13 11.4,-14.2 15,-12.6 16,-10 14,-3 7,-1 3,-4" fill="#ac342c" /><polygon points="-13,-12 -10,-14 -7,-6 -10,-5" fill="#d4604c" /><polygon points="8,-12 11,-13 9.6,-5 7,-4" fill="#d8674e" /><polygon points="-3.6,-8 -0.6,-8.6 1.6,-4 0,1 -3,-1" fill="#d8465a" /><polygon points="-10,-1 -3,-2 3,0 10,-1 14,3 8,8 -2,8 -12,6 -15,2" fill="#962626" /><polygon points="5,0 11,-1 14,3 11,8 6,7" fill="#ba4434" /><polygon points="-6,1.6 -4,0.6 -3,3 -5,4" fill="#f09a9a" /><polygon points="-4,6 -1,5 1,8 -2,9" fill="#e0707c" /><polygon points="2,9 5,8 6,11 3,12" fill="#d86874" /><polygon points="-14.3,13.3 -10,10 -4,12 0,13 -2,16 -6.2,16.6 -10,16" fill="#430e10" /><polygon points="6,12 12,10 15,11.4 13.4,12.9 8,13.6" fill="#5a1416" /><polygon points="14,1 19.6,4.6 17.6,8.6 13,7" fill="#7d1a1c" /></g></g></svg>
<svg class="a" style="left:757.7px;top:1592px" width="99.3" height="97" viewBox="0 0 99.3 97"><rect width="99.3" height="97" fill="url(#gbg)"/><g transform="translate(5.5 18.4)"><path d="M17.7,0 H85 Q88.4,0 88.4,3.4 V53.8 Q88.4,57.2 85,57.2 H34.9 Q31.5,57.2 31.5,53.8 V35.4 H17.7 A17.7,17.7 0 0 1 17.7,0 Z" fill="#3d2e26" filter="url(#b3)"/><polygon points="44.6,7.5 46.6,11.35 50.88,12.06 47.83,15.15 48.48,19.44 44.6,17.5 40.72,19.44 41.37,15.15 38.32,12.06 42.6,11.35" fill="#ff7436" stroke="#ff7436" stroke-width="1" stroke-linejoin="round"/><rect x="54.4" y="7.4" width="12.2" height="12.2" rx="1.4" fill="#685a52"/><rect x="70" y="7.4" width="12.2" height="12.2" rx="1.4" fill="#685a52"/><rect x="38.4" y="23.2" width="12.399999999999999" height="12.399999999999999" rx="1" fill="#ff7a3a"/><rect x="54.4" y="23.3" width="12.2" height="12.2" rx="1.4" fill="#685a52"/><rect x="70" y="23.3" width="12.2" height="12.2" rx="1.4" fill="#685a52"/><polygon points="44.6,39.1 46.6,42.95 50.88,43.66 47.83,46.75 48.48,51.04 44.6,49.1 40.72,51.04 41.37,46.75 38.32,43.66 42.6,42.95" fill="#ff7436" stroke="#ff7436" stroke-width="1" stroke-linejoin="round"/><rect x="54.4" y="39" width="12.2" height="12.2" rx="1.4" fill="#685a52"/><rect x="70" y="39" width="12.2" height="12.2" rx="1.4" fill="#685a52"/><path d="M19.6,5.8 C21.8,8.6 23.2,11.4 21.4,14.6 C20.6,16.2 21.2,17.8 22.8,17.4 C24.6,16.9 25.4,15.2 25.2,13.6 C27.6,16.4 28.2,20.4 26.2,23.6 C24.6,26 22,26.6 20.8,29.6 C16.4,28.2 11.6,25.4 11,20.2 C10.6,15.8 13.8,13.2 16.6,10.6 C18,9.2 19.2,7.8 19.6,5.8 Z" fill="#ff9474"/></g></svg>
<svg class="a" style="left:502.8px;top:1696px" width="105.2" height="102.4" viewBox="0 0 105.2 102.4"><rect width="105.2" height="102.4" fill="url(#ibg)"/><path d="M0,0.6 h28" stroke="#a39a84" stroke-width="0.9" opacity="0.7"/><g transform="translate(52.4 50.15) scale(0.9519 0.9479)"><g filter="url(#b3)"><polygon points="37.32,15.46 15.46,37.32 -15.46,37.32 -37.32,15.46 -37.32,-15.46 -15.46,-37.32 15.46,-37.32 37.32,-15.46" fill="none" stroke="#ebe4d8" stroke-width="0.8" opacity="0.35"/><polygon points="37.4,0 26.45,26.45 0,37.4 -26.45,26.45 -37.4,0 -26.45,-26.45 -0,-37.4 26.45,-26.45" fill="#b3aa9a" stroke="#f4eee3" stroke-width="0.9" stroke-linejoin="round"/><polygon points="31.97,13.24 13.24,31.97 -13.24,31.97 -31.97,13.24 -31.97,-13.24 -13.24,-31.97 13.24,-31.97 31.97,-13.24" fill="url(#disc)" stroke="#f1e9de" stroke-width="0.5"/></g><g filter="url(#b5)"><polygon points="-20.2,1.8 -16.7,0.9 -12,4 -8,10 -7.7,16.4 -14.6,10.4" fill="#3f6a88" /><polygon points="-14.6,-2.1 -9.4,-1.6 -6,6 -5,14 -9,9 -13.7,2.7" fill="#2f6474" /><polygon points="-13,3 -10.6,2 -8,8 -9,10" fill="#cfe8f2" /><polygon points="-6.8,-24 2.6,-20.1 4.8,-14.5 9.5,-9.4 11.2,-5.1 15.5,-0.8 16.8,7 16.8,17.7 12.9,23.8 4.8,24.2 -3.4,22.5 -7.7,16.4 -9.4,5 -11.1,-10.2 -11.1,-17.5" fill="#6fb1d3" /><polygon points="-6.8,-24 2.6,-20.1 4.8,-14.5 9.5,-9.4 11.2,-5.1 8,-2 4,-8 -1,-14 -5,-17" fill="#2b5b56" /><polygon points="-6.8,-24 -5,-17 -8,-12 -11.1,-10.2 -11.1,-17.5" fill="#bcd6e6" /><polygon points="-5,-17 -1,-14 4,-8 6,0 2,-2 -3,-8 -8,-12" fill="#a9cfe6" /><polygon points="-11.1,-10.2 -8,-12 -3,-8 -2,6 -6,10 -9.4,5" fill="#5b9dbd" /><polygon points="15.5,-0.8 18.1,-3.4 19.8,0.1 16.8,7 15,4" fill="#1e3c3a" /><polygon points="10,-2 14,0 15,6 13,9 10.6,3" fill="#c8e2ee" /><polygon points="3,10 7,8 10,13 10,20 6,18" fill="#2e5e5c" /><polygon points="0.6,12 3,10 6,18 3,19" fill="#d2ecf4" /><polygon points="-3.4,22.5 0,18 6,20 10,22 12.9,23.8 4.8,24.2" fill="#a8d4e8" /><polygon points="11,10 16,9 16.8,17.7 13,20" fill="#8fb8cc" /></g></g></svg>
<svg class="a" style="left:757.7px;top:1695.8px" width="99.3" height="99.8" viewBox="0 0 99.3 99.8"><rect width="99.3" height="99.8" fill="url(#gbg)"/><g transform="translate(3 22.6)"><path d="M17.7,0 H85 Q88.4,0 88.4,3.4 V53.8 Q88.4,57.2 85,57.2 H34.9 Q31.5,57.2 31.5,53.8 V35.4 H17.7 A17.7,17.7 0 0 1 17.7,0 Z" fill="#3d2e26" filter="url(#b3)"/><polygon points="44.6,7.5 46.6,11.35 50.88,12.06 47.83,15.15 48.48,19.44 44.6,17.5 40.72,19.44 41.37,15.15 38.32,12.06 42.6,11.35" fill="#2fb0f2" stroke="#2fb0f2" stroke-width="1" stroke-linejoin="round"/><rect x="54.4" y="7.4" width="12.2" height="12.2" rx="1.4" fill="#685a52"/><rect x="70" y="7.4" width="12.2" height="12.2" rx="1.4" fill="#685a52"/><rect x="38.4" y="23.2" width="12.399999999999999" height="12.399999999999999" rx="1" fill="#38b2f2"/><rect x="54.4" y="23.3" width="12.2" height="12.2" rx="1.4" fill="#685a52"/><rect x="70" y="23.3" width="12.2" height="12.2" rx="1.4" fill="#685a52"/><polygon points="44.6,39.1 46.6,42.95 50.88,43.66 47.83,46.75 48.48,51.04 44.6,49.1 40.72,51.04 41.37,46.75 38.32,43.66 42.6,42.95" fill="#2fb0f2" stroke="#2fb0f2" stroke-width="1" stroke-linejoin="round"/><rect x="54.4" y="39" width="12.2" height="12.2" rx="1.4" fill="#685a52"/><rect x="70" y="39" width="12.2" height="12.2" rx="1.4" fill="#685a52"/><g transform="rotate(0 18.9 17.5)"><path d="M18.9,17.5 V5.9 M15.8,6.7 L18.9,10.1 L22,6.7 M16.5,11.3 L18.9,13.7 L21.3,11.3" fill="none" stroke="#84e2fa" stroke-width="1.9" stroke-linecap="round" stroke-linejoin="round"/></g><g transform="rotate(60 18.9 17.5)"><path d="M18.9,17.5 V5.9 M15.8,6.7 L18.9,10.1 L22,6.7 M16.5,11.3 L18.9,13.7 L21.3,11.3" fill="none" stroke="#84e2fa" stroke-width="1.9" stroke-linecap="round" stroke-linejoin="round"/></g><g transform="rotate(120 18.9 17.5)"><path d="M18.9,17.5 V5.9 M15.8,6.7 L18.9,10.1 L22,6.7 M16.5,11.3 L18.9,13.7 L21.3,11.3" fill="none" stroke="#84e2fa" stroke-width="1.9" stroke-linecap="round" stroke-linejoin="round"/></g><g transform="rotate(180 18.9 17.5)"><path d="M18.9,17.5 V5.9 M15.8,6.7 L18.9,10.1 L22,6.7 M16.5,11.3 L18.9,13.7 L21.3,11.3" fill="none" stroke="#84e2fa" stroke-width="1.9" stroke-linecap="round" stroke-linejoin="round"/></g><g transform="rotate(240 18.9 17.5)"><path d="M18.9,17.5 V5.9 M15.8,6.7 L18.9,10.1 L22,6.7 M16.5,11.3 L18.9,13.7 L21.3,11.3" fill="none" stroke="#84e2fa" stroke-width="1.9" stroke-linecap="round" stroke-linejoin="round"/></g><g transform="rotate(300 18.9 17.5)"><path d="M18.9,17.5 V5.9 M15.8,6.7 L18.9,10.1 L22,6.7 M16.5,11.3 L18.9,13.7 L21.3,11.3" fill="none" stroke="#84e2fa" stroke-width="1.9" stroke-linecap="round" stroke-linejoin="round"/></g></g></svg>
<svg class="a" style="left:500.5px;top:1798.2px" width="108.3" height="110.8" viewBox="0 0 108.3 110.8"><rect width="108.3" height="110.8" fill="url(#ibg)"/><g transform="translate(53.4 52.75) scale(0.9866 0.9906)"><g filter="url(#b3)"><polygon points="37.32,15.46 15.46,37.32 -15.46,37.32 -37.32,15.46 -37.32,-15.46 -15.46,-37.32 15.46,-37.32 37.32,-15.46" fill="none" stroke="#ebe4d8" stroke-width="0.8" opacity="0.35"/><polygon points="37.4,0 26.45,26.45 0,37.4 -26.45,26.45 -37.4,0 -26.45,-26.45 -0,-37.4 26.45,-26.45" fill="#b3aa9a" stroke="#f4eee3" stroke-width="0.9" stroke-linejoin="round"/><polygon points="31.97,13.24 13.24,31.97 -13.24,31.97 -31.97,13.24 -31.97,-13.24 -13.24,-31.97 13.24,-31.97 31.97,-13.24" fill="url(#disc)" stroke="#f1e9de" stroke-width="0.5"/></g><g filter="url(#b5)"><polygon points="-13.6,-16 -9,-15 -5.4,-15.2 -0.5,-11.2 3,-12.6 6.9,-13.6 12.6,-14 13.4,-10 13,-7 16.3,-2.2 20.4,-5 20.8,-0.5 18.6,3.6 15.9,6.8 11,10.9 8.5,15.8 2.8,15 -2.1,11.7 -7,14.2 -12.8,10.9 -16.8,5.2 -20.9,-0.5 -17.7,-7 -16.4,-12.4" fill="#b87a30" stroke="#b87a30" stroke-width="1.4" stroke-linejoin="round"/><path d="M-15,-11 C-12,-15 -7,-15 -4,-12 C-1,-8 -3,-3 -8,-2 C-13,-1 -17,-6 -15,-11 Z" fill="#efb04e"/><path d="M-3,-8 C1,-12 7,-10 9,-5 C10,0 7,4 2,4 C-3,3 -6,-3 -3,-8 Z" fill="#f2b652"/><path d="M-17,1 C-13,-3 -8,-1 -6,3 C-5,8 -9,11 -13,9 C-17,7 -19,4 -17,1 Z" fill="#e5a03e"/><path d="M-1,7 C3,3 9,5 10,9 C10,13 6,15 2,14 C-1,13 -3,10 -1,7 Z" fill="#eeb048"/><path d="M8,-13 C11,-14 13,-12 13,-8 C14,-4 17,-2 20,-4 C20,0 17,5 12,8 C9,4 10,-2 8,-13 Z" fill="#c99a5a"/><path d="M6,-13 C8,-14 11,-13 11,-10 C10,-8 7,-8 6,-13 Z" fill="#d8b840"/><path d="M-6,-2 L-1,5 L-6,7 Z" fill="#9a5c1c"/></g></g></svg>
<svg class="a" style="left:757.7px;top:1802.4px" width="99.3" height="98.6" viewBox="0 0 99.3 98.6"><rect width="99.3" height="98.6" fill="url(#gbg)"/><g transform="translate(3 21.4)"><path d="M17.7,0 H85 Q88.4,0 88.4,3.4 V53.8 Q88.4,57.2 85,57.2 H34.9 Q31.5,57.2 31.5,53.8 V35.4 H17.7 A17.7,17.7 0 0 1 17.7,0 Z" fill="#3d2e26" filter="url(#b3)"/><polygon points="44.6,7.5 46.6,11.35 50.88,12.06 47.83,15.15 48.48,19.44 44.6,17.5 40.72,19.44 41.37,15.15 38.32,12.06 42.6,11.35" fill="#f8d818" stroke="#f8d818" stroke-width="1" stroke-linejoin="round"/><rect x="54.4" y="7.4" width="12.2" height="12.2" rx="1.4" fill="#685a52"/><rect x="70" y="7.4" width="12.2" height="12.2" rx="1.4" fill="#685a52"/><rect x="38.4" y="23.2" width="12.399999999999999" height="12.399999999999999" rx="1" fill="#f9da22"/><rect x="54.4" y="23.3" width="12.2" height="12.2" rx="1.4" fill="#685a52"/><rect x="70" y="23.3" width="12.2" height="12.2" rx="1.4" fill="#685a52"/><rect x="38.5" y="39" width="12.2" height="12.2" rx="1.4" fill="#685a52"/><polygon points="60.5,39.1 62.5,42.95 66.78,43.66 63.73,46.75 64.38,51.04 60.5,49.1 56.62,51.04 57.27,46.75 54.22,43.66 58.5,42.95" fill="#f8d818" stroke="#f8d818" stroke-width="1" stroke-linejoin="round"/><rect x="70" y="39" width="12.2" height="12.2" rx="1.4" fill="#685a52"/><polygon points="20.6,5.6 9.6,19.2 17.2,19.6 14.2,29.6 28.6,14.4 19.6,14.6 21.2,5.8" fill="#f4ee62" stroke="#f4ee62" stroke-width="0.6" stroke-linejoin="round"/></g></svg>
<svg class="a" style="left:500.5px;top:1908.6px" width="108.4" height="104.7" viewBox="0 0 108.4 104.7"><rect width="108.4" height="104.7" fill="url(#ibg)"/><g transform="translate(-6 58)" fill="none" stroke="#e8e1d3" stroke-width="1.8" opacity="0.6" filter="url(#b8)"><path d="M2,0 C12,-4 16,-14 12,-18 C8,-21 3,-18 4,-13"/><path d="M0,22 C10,18 18,24 16,32 C14,38 6,38 4,34"/><path d="M12,4 C20,8 22,2 30,6"/><path d="M30,44 C50,30 80,32 88,44"/></g><g transform="translate(53.3 50.65) scale(0.9813 0.9639)"><g filter="url(#b3)"><polygon points="37.32,15.46 15.46,37.32 -15.46,37.32 -37.32,15.46 -37.32,-15.46 -15.46,-37.32 15.46,-37.32 37.32,-15.46" fill="none" stroke="#ebe4d8" stroke-width="0.8" opacity="0.35"/><polygon points="37.4,0 26.45,26.45 0,37.4 -26.45,26.45 -37.4,0 -26.45,-26.45 -0,-37.4 26.45,-26.45" fill="#b3aa9a" stroke="#f4eee3" stroke-width="0.9" stroke-linejoin="round"/><polygon points="31.97,13.24 13.24,31.97 -13.24,31.97 -31.97,13.24 -31.97,-13.24 -13.24,-31.97 13.24,-31.97 31.97,-13.24" fill="url(#disc)" stroke="#f1e9de" stroke-width="0.5"/></g><g filter="url(#b5)"><polygon points="-11.8,-15.9 -4.5,-16.1 2.9,-12.7 9,-7.4 11.5,-1.6 12.7,4.5 15.2,10.6 15.2,15.5 11.1,17.6 2.9,16.3 -5.3,13.1 -10.2,8.6 -13.4,1.6 -15.7,-5.7 -15.1,-12.7" fill="#d9cd32" stroke="#d9cd32" stroke-width="1.6" stroke-linejoin="round"/><path d="M-14,-12 C-10,-16 -4,-15.6 1,-12.6 C6,-9 10,-3 11,2 C7,0 1,-4 -5,-7 C-9,-9 -12,-10.6 -14,-12 Z" fill="#ebe25a"/><path d="M-12,-12 L-7,2" stroke="#b8ac20" stroke-width="1" fill="none"/><path d="M-7,-14 L0,-1" stroke="#b8ac20" stroke-width="1" fill="none"/><path d="M-1,-12 L6,2" stroke="#b8ac20" stroke-width="1" fill="none"/><path d="M-6,2 L1,13" stroke="#b8ac20" stroke-width="1" fill="none"/><path d="M1,1 L8,13" stroke="#b8ac20" stroke-width="1" fill="none"/><path d="M7,2 L13,15" stroke="#b8ac20" stroke-width="1" fill="none"/><ellipse cx="-11.6" cy="-9" rx="1.3" ry="3.8" transform="rotate(-20 -11.6 -9)" fill="#fcf8c4"/><ellipse cx="-5.6" cy="-10.6" rx="1.6" ry="4.2" transform="rotate(-28 -5.6 -10.6)" fill="#fcf8c4"/><ellipse cx="3" cy="-6.4" rx="1.3" ry="3.8" transform="rotate(-30 3 -6.4)" fill="#fcf8c4"/><ellipse cx="-4" cy="-0.4" rx="1.8" ry="3.6" transform="rotate(-30 -4 -0.4)" fill="#fcf8c4"/><ellipse cx="3.8" cy="2.6" rx="1.6" ry="4" transform="rotate(-28 3.8 2.6)" fill="#fcf8c4"/><ellipse cx="9" cy="9" rx="1.2" ry="3.4" transform="rotate(-30 9 9)" fill="#fcf8c4"/><ellipse cx="-1" cy="9" rx="1.1" ry="3" transform="rotate(-30 -1 9)" fill="#fcf8c4"/></g></g></svg>
<svg class="a" style="left:757.7px;top:1909px" width="99.3" height="98.6" viewBox="0 0 99.3 98.6"><rect width="99.3" height="98.6" fill="url(#gbg)"/><g transform="translate(3.8 17.6)"><path d="M17.7,0 H85 Q88.4,0 88.4,3.4 V53.8 Q88.4,57.2 85,57.2 H34.9 Q31.5,57.2 31.5,53.8 V35.4 H17.7 A17.7,17.7 0 0 1 17.7,0 Z" fill="#3d2e26" filter="url(#b3)"/><polygon points="44.6,7.5 46.6,11.35 50.88,12.06 47.83,15.15 48.48,19.44 44.6,17.5 40.72,19.44 41.37,15.15 38.32,12.06 42.6,11.35" fill="#dac4f0" stroke="#dac4f0" stroke-width="1" stroke-linejoin="round"/><rect x="54.4" y="7.4" width="12.2" height="12.2" rx="1.4" fill="#685a52"/><rect x="70" y="7.4" width="12.2" height="12.2" rx="1.4" fill="#685a52"/><rect x="38.4" y="23.2" width="12.399999999999999" height="12.399999999999999" rx="1" fill="#dcc4f2"/><polygon points="60.5,23.4 62.5,27.25 66.78,27.96 63.73,31.05 64.38,35.34 60.5,33.4 56.62,35.34 57.27,31.05 54.22,27.96 58.5,27.25" fill="#dac4f0" stroke="#dac4f0" stroke-width="1" stroke-linejoin="round"/><rect x="70" y="23.3" width="12.2" height="12.2" rx="1.4" fill="#685a52"/><rect x="38.5" y="39" width="12.2" height="12.2" rx="1.4" fill="#685a52"/><rect x="54.4" y="39" width="12.2" height="12.2" rx="1.4" fill="#685a52"/><rect x="70" y="39" width="12.2" height="12.2" rx="1.4" fill="#685a52"/><polygon points="18.9,4.9 21.04,12.33 26.11,10.29 24.07,15.36 31.5,17.5 24.07,19.64 26.11,24.71 21.04,22.67 18.9,30.1 16.76,22.67 11.69,24.71 13.73,19.64 6.3,17.5 13.73,15.36 11.69,10.29 16.76,12.33" fill="#ddd0f6"/></g></svg>
<svg class="a" style="left:500.5px;top:2013.1px" width="108.5" height="107.9" viewBox="0 0 108.5 107.9"><rect width="108.5" height="107.9" fill="url(#ibg)"/><rect width="108.5" height="107.9" fill="url(#tan)"/><rect x="0" y="0" width="108.5" height="1" fill="#c2b7a0"/><g transform="translate(-4 6)" fill="none" stroke="#dcc0ac" stroke-width="1.3" opacity="0.8" filter="url(#b5)"><path d="M0,2 C8,4 14,12 12,22 C11,28 6,30 2,28"/><path d="M14,8 C20,6 26,8 28,12"/><path d="M16,12 C20,11 24,12 26,15"/></g><g transform="translate(53.8 55) scale(0.9866 1.0187)"><g filter="url(#b3)"><polygon points="37.32,15.46 15.46,37.32 -15.46,37.32 -37.32,15.46 -37.32,-15.46 -15.46,-37.32 15.46,-37.32 37.32,-15.46" fill="none" stroke="#ebe4d8" stroke-width="0.8" opacity="0.35"/><polygon points="37.4,0 26.45,26.45 0,37.4 -26.45,26.45 -37.4,0 -26.45,-26.45 -0,-37.4 26.45,-26.45" fill="#b3aa9a" stroke="#f4eee3" stroke-width="0.9" stroke-linejoin="round"/><polygon points="31.97,13.24 13.24,31.97 -13.24,31.97 -31.97,13.24 -31.97,-13.24 -13.24,-31.97 13.24,-31.97 31.97,-13.24" fill="url(#disc)" stroke="#f1e9de" stroke-width="0.5"/></g><g filter="url(#b5)"><polygon points="-19.6,-13 -15,-18 -9,-20 -3,-15.4 -1,-9 -6,-3 -13,-1.6 -19,-5" fill="#b88c50" /><polygon points="-19,-13 -15,-17.6 -9,-19.6 -3.6,-15.4 -9,-10 -17,-9" fill="#e0b872" /><polygon points="-17,-9 -9,-10 -7,-4 -13,-2 -18.6,-5" fill="#cfa260" /><polygon points="19.6,-6.8 16.95,-2.21 11.65,-2.21 9,-6.8 11.65,-11.39 16.95,-11.39" fill="#b89048" /><polygon points="10,-9.4 12,-11.6 17,-11.6 19,-8 14,-6" fill="#e0bc6c" /><polygon points="-13.6,3 -7,-5.6 2,-7 10,-3 13.8,6 12,15 6,20 -1,21.8 -8,18 -13,11" fill="#b08a4c" /><polygon points="-13,3 -7,-5.2 2,-6.6 4,-1 -4,4 -8,4" fill="#e4ba72" /><polygon points="2,-6.6 10,-2.6 13.4,6 9,8 4,-1" fill="#c49c50" /><polygon points="-4,4 4,-1 9,8 8,15 0,17.6 -5,13" fill="#e2b46a" /><polygon points="-13.4,4 -8,4 -4,4 -5,13 -2,21 -8,18 -13,11" fill="#c0965a" /><circle cx="1" cy="0.6" r="0.6" fill="#8a6428"/><circle cx="-9" cy="5" r="0.6" fill="#8a6428"/><circle cx="9.4" cy="8.4" r="0.5" fill="#8a6428"/></g></g></svg>
<svg class="a" style="left:757.7px;top:2014.4px" width="99.3" height="97.6" viewBox="0 0 99.3 97.6"><rect width="99.3" height="97.6" fill="url(#gbg)"/><g transform="translate(5.5 20.1)"><path d="M17.7,0 H85 Q88.4,0 88.4,3.4 V53.8 Q88.4,57.2 85,57.2 H34.9 Q31.5,57.2 31.5,53.8 V35.4 H17.7 A17.7,17.7 0 0 1 17.7,0 Z" fill="#3d2e26" filter="url(#b3)"/><polygon points="44.6,7.5 46.6,11.35 50.88,12.06 47.83,15.15 48.48,19.44 44.6,17.5 40.72,19.44 41.37,15.15 38.32,12.06 42.6,11.35" fill="#ff7436" stroke="#ff7436" stroke-width="1" stroke-linejoin="round"/><rect x="54.4" y="7.4" width="12.2" height="12.2" rx="1.4" fill="#685a52"/><rect x="70" y="7.4" width="12.2" height="12.2" rx="1.4" fill="#685a52"/><rect x="38.4" y="23.2" width="12.399999999999999" height="12.399999999999999" rx="1" fill="#ff7a3a"/><rect x="54.4" y="23.3" width="12.2" height="12.2" rx="1.4" fill="#685a52"/><rect x="70" y="23.3" width="12.2" height="12.2" rx="1.4" fill="#685a52"/><rect x="38.5" y="39" width="12.2" height="12.2" rx="1.4" fill="#685a52"/><rect x="54.4" y="39" width="12.2" height="12.2" rx="1.4" fill="#685a52"/><rect x="70" y="39" width="12.2" height="12.2" rx="1.4" fill="#685a52"/><path d="M19.6,5.8 C21.8,8.6 23.2,11.4 21.4,14.6 C20.6,16.2 21.2,17.8 22.8,17.4 C24.6,16.9 25.4,15.2 25.2,13.6 C27.6,16.4 28.2,20.4 26.2,23.6 C24.6,26 22,26.6 20.8,29.6 C16.4,28.2 11.6,25.4 11,20.2 C10.6,15.8 13.8,13.2 16.6,10.6 C18,9.2 19.2,7.8 19.6,5.8 Z" fill="#ff9474"/></g></svg>
<svg class="a" style="left:500.5px;top:2120.5px" width="107.9" height="107" viewBox="0 0 107.9 107"><rect width="107.9" height="107" fill="url(#ibg)"/><rect x="0" y="0" width="107.9" height="1.8" fill="#8f8862"/><rect x="0" y="1.8" width="107.9" height="1.6" fill="#f3eee6"/><path d="M0,0 l5,0 l-5,3 Z M107.9,0 l-5,0 l5,3 Z" fill="#b3a98f" opacity="0.8"/><g transform="translate(55 52.2) scale(0.9866 0.9893)"><g filter="url(#b3)"><polygon points="37.32,15.46 15.46,37.32 -15.46,37.32 -37.32,15.46 -37.32,-15.46 -15.46,-37.32 15.46,-37.32 37.32,-15.46" fill="none" stroke="#ebe4d8" stroke-width="0.8" opacity="0.35"/><polygon points="37.4,0 26.45,26.45 0,37.4 -26.45,26.45 -37.4,0 -26.45,-26.45 -0,-37.4 26.45,-26.45" fill="#b3aa9a" stroke="#f4eee3" stroke-width="0.9" stroke-linejoin="round"/><polygon points="31.97,13.24 13.24,31.97 -13.24,31.97 -31.97,13.24 -31.97,-13.24 -13.24,-31.97 13.24,-31.97 31.97,-13.24" fill="url(#disc)" stroke="#f1e9de" stroke-width="0.5"/></g><g filter="url(#b5)"><path d="M-14.1,-13.4 C-14,-16 -12,-17 -10,-16.8 C-8,-18 -4,-18 -2,-18.6 C0,-20.4 4,-19.6 6.3,-17.5 C9,-19.4 13,-19.4 14.6,-17 C16,-15 15.6,-12 12.8,-10.1 C15,-8 16,-5 16.2,-1 C16.8,4 15.6,7 13.6,9.5 C12,13 10,15 8.3,16.1 C6,18 4,19.4 2.6,20.1 C0,19 -2.6,17.6 -4.3,16.1 C-6.4,14 -8,12 -9.2,10.3 C-11,9 -12.6,7 -13.3,5.4 C-15,3 -15.8,1.4 -15.4,-0.3 C-15,-2.4 -13.6,-3.6 -12.1,-3.6 C-11.4,-6 -11,-8 -11.3,-9.3 C-13,-10 -14,-11.6 -14.1,-13.4 Z" fill="#8a2c28"/><path d="M-14,-13.4 C-14,-16 -12,-17 -10,-16.8 C-8,-18 -4,-18 -2,-18.6 C0,-20.4 4,-19.6 6.3,-17.5 C9,-19.4 13,-19.4 14.6,-17 C16,-15 15.6,-12 12.8,-10.1 C9,-9 4,-9.6 0,-10.6 C-4,-9 -8,-8.6 -11.3,-9.3 C-13,-10 -14,-11.6 -14,-13.4 Z" fill="#b23636"/><path d="M0,-10.6 C5,-9.6 10,-9 12.8,-10 C15,-8 16,-5 16.2,-1 C16.8,4 15.6,7 13.6,9.5 C11,14 7,17.6 2.6,20 C2,12 2,2 0,-10.6 Z" fill="#9c342c"/><path d="M5,-2 C8,-3 10,0 9,4 C8,7 5,7 4,4 Z" fill="#c05a40" opacity="0.8"/><path d="M-12.1,-3.6 C-9,-6 -5,-7 -3,-4 C-1,2 1,10 2.6,20 C-2,18 -6,14 -9.2,10.3 C-12,8 -14,5 -15.4,-0.3 C-15,-2.4 -13.6,-3.6 -12.1,-3.6 Z" fill="#74343a"/><path d="M-6,9 C-4,13 0,17 2.4,19.6 C0,19 -4,16 -7,12 Z" fill="#5c3428"/><ellipse cx="-17" cy="-4.4" rx="0.7" ry="1.6" fill="#45241e"/><ellipse cx="-17.4" cy="6.7" rx="1.4" ry="0.9" fill="#45241e"/><ellipse cx="-17.4" cy="12.8" rx="0.8" ry="0.7" fill="#45241e"/><ellipse cx="17.3" cy="9.7" rx="0.9" ry="0.6" fill="#45241e"/><ellipse cx="-15.6" cy="9.6" rx="0.5" ry="0.5" fill="#45241e"/></g></g></svg>
<svg class="a" style="left:757.7px;top:2120.4px" width="99.3" height="99.4" viewBox="0 0 99.3 99.4"><rect width="99.3" height="99.4" fill="url(#gbg)"/><g transform="translate(3 21.3)"><path d="M17.7,0 H85 Q88.4,0 88.4,3.4 V53.8 Q88.4,57.2 85,57.2 H34.9 Q31.5,57.2 31.5,53.8 V35.4 H17.7 A17.7,17.7 0 0 1 17.7,0 Z" fill="#3d2e26" filter="url(#b3)"/><polygon points="44.6,7.5 46.6,11.35 50.88,12.06 47.83,15.15 48.48,19.44 44.6,17.5 40.72,19.44 41.37,15.15 38.32,12.06 42.6,11.35" fill="#ff7436" stroke="#ff7436" stroke-width="1" stroke-linejoin="round"/><rect x="54.4" y="7.4" width="12.2" height="12.2" rx="1.4" fill="#685a52"/><rect x="70" y="7.4" width="12.2" height="12.2" rx="1.4" fill="#685a52"/><rect x="38.4" y="23.2" width="12.399999999999999" height="12.399999999999999" rx="1" fill="#ff7a3a"/><rect x="54.4" y="23.3" width="12.2" height="12.2" rx="1.4" fill="#685a52"/><rect x="70" y="23.3" width="12.2" height="12.2" rx="1.4" fill="#685a52"/><rect x="38.5" y="39" width="12.2" height="12.2" rx="1.4" fill="#685a52"/><polygon points="60.5,39.1 62.5,42.95 66.78,43.66 63.73,46.75 64.38,51.04 60.5,49.1 56.62,51.04 57.27,46.75 54.22,43.66 58.5,42.95" fill="#ff7436" stroke="#ff7436" stroke-width="1" stroke-linejoin="round"/><rect x="70" y="39" width="12.2" height="12.2" rx="1.4" fill="#685a52"/><path d="M19.6,5.8 C21.8,8.6 23.2,11.4 21.4,14.6 C20.6,16.2 21.2,17.8 22.8,17.4 C24.6,16.9 25.4,15.2 25.2,13.6 C27.6,16.4 28.2,20.4 26.2,23.6 C24.6,26 22,26.6 20.8,29.6 C16.4,28.2 11.6,25.4 11,20.2 C10.6,15.8 13.8,13.2 16.6,10.6 C18,9.2 19.2,7.8 19.6,5.8 Z" fill="#ff9474"/></g></svg>
<svg class="a" style="left:502.2px;top:2227.3px" width="104.4" height="105.2" viewBox="0 0 104.4 105.2"><rect width="104.4" height="105.2" fill="url(#ibg)"/><rect x="-2" y="0" width="108.4" height="1" fill="#c5bca6"/><rect x="0" y="1" width="104.4" height="1.2" fill="#e9e2d4"/><path d="M86,5 c4,3 8,3 12,1 M88,8 c4,2 7,2 10,0 M97,3 c-3,6 -2,12 2,16" fill="none" stroke="#e6c3a6" stroke-width="1.3" opacity="0.8" filter="url(#b5)"/><g transform="translate(52.5 51.35) scale(0.9599 0.9693)"><g filter="url(#b3)"><polygon points="37.32,15.46 15.46,37.32 -15.46,37.32 -37.32,15.46 -37.32,-15.46 -15.46,-37.32 15.46,-37.32 37.32,-15.46" fill="none" stroke="#ebe4d8" stroke-width="0.8" opacity="0.35"/><polygon points="37.4,0 26.45,26.45 0,37.4 -26.45,26.45 -37.4,0 -26.45,-26.45 -0,-37.4 26.45,-26.45" fill="#b3aa9a" stroke="#f4eee3" stroke-width="0.9" stroke-linejoin="round"/><polygon points="31.97,13.24 13.24,31.97 -13.24,31.97 -31.97,13.24 -31.97,-13.24 -13.24,-31.97 13.24,-31.97 31.97,-13.24" fill="url(#disc)" stroke="#f1e9de" stroke-width="0.5"/></g><g filter="url(#b5)"><polygon points="0,-18.6 3,-14 5.6,-10 8,-5 9.1,0 8,6 6,12 3,17 0,19 -3.6,17 -6,11 -8,4 -8.5,-2 -7,-9 -3,-14" fill="#e2b858" /><polygon points="0,-18 2.6,-13.6 2,-7 0,-5 -2.4,-8 -2.4,-13.6" fill="#fffdf6" /><polygon points="-6.6,-8.6 -3,-11 -1,-5 -1.6,6 -3,13 -5.6,9 -7.6,2" fill="#f8ecd6" /><polygon points="1.6,-4 5,-9 8,-3 7.4,5 4,13 2,8" fill="#f3dfb6" /><polygon points="-0.6,-4 1,-4 1.8,8 0,17 -1.6,9" fill="#d9a83a" /><polygon points="-7,-1 -4.6,-3 -3.6,2 -6,3.6" fill="#ffffff" /><polygon points="3.4,-1 6.6,-3.6 6.6,2 4,4" fill="#ffffff" /><polygon points="-1,9 0.6,7 1,12 -0.6,14" fill="#fff8e8" /><path d="M-6.6,-8.6 L-1,-5 L2,-7 L5.4,-9.6" fill="none" stroke="#6e6a3a" stroke-width="0.7"/></g></g></svg>
<svg class="a" style="left:757.7px;top:2227.5px" width="99.3" height="98.5" viewBox="0 0 99.3 98.5"><rect width="99.3" height="98.5" fill="url(#gbg)"/><g transform="translate(3.8 17)"><path d="M17.7,0 H85 Q88.4,0 88.4,3.4 V53.8 Q88.4,57.2 85,57.2 H34.9 Q31.5,57.2 31.5,53.8 V35.4 H17.7 A17.7,17.7 0 0 1 17.7,0 Z" fill="#3d2e26" filter="url(#b3)"/><polygon points="44.6,7.5 46.6,11.35 50.88,12.06 47.83,15.15 48.48,19.44 44.6,17.5 40.72,19.44 41.37,15.15 38.32,12.06 42.6,11.35" fill="#f8d818" stroke="#f8d818" stroke-width="1" stroke-linejoin="round"/><rect x="54.4" y="7.4" width="12.2" height="12.2" rx="1.4" fill="#685a52"/><rect x="70" y="7.4" width="12.2" height="12.2" rx="1.4" fill="#685a52"/><rect x="38.4" y="23.2" width="12.399999999999999" height="12.399999999999999" rx="1" fill="#f9da22"/><rect x="54.4" y="23.3" width="12.2" height="12.2" rx="1.4" fill="#685a52"/><rect x="70" y="23.3" width="12.2" height="12.2" rx="1.4" fill="#685a52"/><polygon points="44.6,39.1 46.6,42.95 50.88,43.66 47.83,46.75 48.48,51.04 44.6,49.1 40.72,51.04 41.37,46.75 38.32,43.66 42.6,42.95" fill="#f8d818" stroke="#f8d818" stroke-width="1" stroke-linejoin="round"/><rect x="54.4" y="39" width="12.2" height="12.2" rx="1.4" fill="#685a52"/><rect x="70" y="39" width="12.2" height="12.2" rx="1.4" fill="#685a52"/><polygon points="20.6,5.6 9.6,19.2 17.2,19.6 14.2,29.6 28.6,14.4 19.6,14.6 21.2,5.8" fill="#f4ee62" stroke="#f4ee62" stroke-width="0.6" stroke-linejoin="round"/></g></svg>
<svg class="a" style="left:500.2px;top:2332.3px" width="108.8" height="109.7" viewBox="0 0 108.8 109.7"><rect width="108.8" height="109.7" fill="url(#ibg)"/><g transform="translate(-6 56)" fill="none" stroke="#e8e1d3" stroke-width="1.8" opacity="0.6" filter="url(#b8)"><path d="M2,0 C12,-4 16,-14 12,-18 C8,-21 3,-18 4,-13"/><path d="M0,22 C10,18 18,24 16,32 C14,38 6,38 4,34"/><path d="M12,4 C20,8 22,2 30,6"/><path d="M30,44 C50,30 80,32 88,44"/></g><g transform="translate(54.1 51.35) scale(0.9786 0.9853)"><g filter="url(#b3)"><polygon points="37.32,15.46 15.46,37.32 -15.46,37.32 -37.32,15.46 -37.32,-15.46 -15.46,-37.32 15.46,-37.32 37.32,-15.46" fill="none" stroke="#ebe4d8" stroke-width="0.8" opacity="0.35"/><polygon points="37.4,0 26.45,26.45 0,37.4 -26.45,26.45 -37.4,0 -26.45,-26.45 -0,-37.4 26.45,-26.45" fill="#b3aa9a" stroke="#f4eee3" stroke-width="0.9" stroke-linejoin="round"/><polygon points="31.97,13.24 13.24,31.97 -13.24,31.97 -31.97,13.24 -31.97,-13.24 -13.24,-31.97 13.24,-31.97 31.97,-13.24" fill="url(#disc)" stroke="#f1e9de" stroke-width="0.5"/></g><g filter="url(#b5)"><polygon points="-18,-3.1 -13.1,-9.2 -8.6,-11.7 -3.7,-9.2 0,-8.4 5.7,-12.1 10.6,-9.2 15.5,-5.1 16.7,-0.2 17.5,5.1 14.7,10.4 9,12.8 5.7,9.6 0.8,12 -6.6,13.2 -10.7,8.3 -15.6,4.7" fill="#22893a" stroke="#22893a" stroke-width="1.6" stroke-linejoin="round"/><path d="M-15,-4 C-13,-8 -9,-11 -5,-9 C-2,-7 -2,-3 -5,-1 C-9,1 -14,0 -15,-4 Z" fill="#52a85a"/><path d="M0,-7 C4,-12 10,-10 13,-6 C15,-2 12,2 8,3 C3,3 -1,-2 0,-7 Z" fill="#36a04a"/><path d="M-6,0 C-2,-3 3,-1 4,3 C5,7 1,10 -3,9 C-6,8 -8,4 -6,0 Z" fill="#4fb866"/><path d="M4,3 C8,1 13,3 13,7 C12,10 8,11 5,9 Z" fill="#4aa858"/><path d="M-11,8 C-9,6 -5,9 -4,12.6 C-6,13.6 -10,12 -11,8 Z" fill="#0d3216"/><path d="M10,8 C13,6 16,5 17,7 C16,9.6 13,11 10,11.6 Z" fill="#7aaaa6"/><path d="M-17,-2 C-16,2 -13,5 -10,7 C-13,7 -17,3 -17,-2 Z" fill="#14602a"/></g></g></svg>
<svg class="a" style="left:757.7px;top:2332.1px" width="99.3" height="99.4" viewBox="0 0 99.3 99.4"><rect width="99.3" height="99.4" fill="url(#gbg)"/><g transform="translate(5.5 20.5)"><path d="M17.7,0 H85 Q88.4,0 88.4,3.4 V53.8 Q88.4,57.2 85,57.2 H34.9 Q31.5,57.2 31.5,53.8 V35.4 H17.7 A17.7,17.7 0 0 1 17.7,0 Z" fill="#3d2e26" filter="url(#b3)"/><polygon points="44.6,7.5 46.6,11.35 50.88,12.06 47.83,15.15 48.48,19.44 44.6,17.5 40.72,19.44 41.37,15.15 38.32,12.06 42.6,11.35" fill="#3fd822" stroke="#3fd822" stroke-width="1" stroke-linejoin="round"/><rect x="54.4" y="7.4" width="12.2" height="12.2" rx="1.4" fill="#685a52"/><rect x="70" y="7.4" width="12.2" height="12.2" rx="1.4" fill="#685a52"/><rect x="38.4" y="23.2" width="12.399999999999999" height="12.399999999999999" rx="1" fill="#46d820"/><rect x="54.4" y="23.3" width="12.2" height="12.2" rx="1.4" fill="#685a52"/><rect x="70" y="23.3" width="12.2" height="12.2" rx="1.4" fill="#685a52"/><polygon points="44.6,39.1 46.6,42.95 50.88,43.66 47.83,46.75 48.48,51.04 44.6,49.1 40.72,51.04 41.37,46.75 38.32,43.66 42.6,42.95" fill="#3fd822" stroke="#3fd822" stroke-width="1" stroke-linejoin="round"/><rect x="54.4" y="39" width="12.2" height="12.2" rx="1.4" fill="#685a52"/><rect x="70" y="39" width="12.2" height="12.2" rx="1.4" fill="#685a52"/><circle cx="19.5" cy="17.6" r="3.4" fill="#72e650"/><g transform="rotate(0 19.5 17.6)"><path d="M17.1,11.2 C24.1,5.8 32.1,10.6 31.9,23 C28.9,18 23.9,14.6 17.1,11.2 Z" fill="#72e650"/></g><g transform="rotate(120 19.5 17.6)"><path d="M17.1,11.2 C24.1,5.8 32.1,10.6 31.9,23 C28.9,18 23.9,14.6 17.1,11.2 Z" fill="#72e650"/></g><g transform="rotate(240 19.5 17.6)"><path d="M17.1,11.2 C24.1,5.8 32.1,10.6 31.9,23 C28.9,18 23.9,14.6 17.1,11.2 Z" fill="#72e650"/></g></g></svg>
<svg class="a" style="left:500.3px;top:2438px" width="106.3" height="107" viewBox="0 0 106.3 107"><rect width="106.3" height="107" fill="url(#ibg)"/><g transform="translate(51.8 51.65) scale(0.9786 0.9853)"><g filter="url(#b3)"><polygon points="37.32,15.46 15.46,37.32 -15.46,37.32 -37.32,15.46 -37.32,-15.46 -15.46,-37.32 15.46,-37.32 37.32,-15.46" fill="none" stroke="#ebe4d8" stroke-width="0.8" opacity="0.35"/><polygon points="37.4,0 26.45,26.45 0,37.4 -26.45,26.45 -37.4,0 -26.45,-26.45 -0,-37.4 26.45,-26.45" fill="#b3aa9a" stroke="#f4eee3" stroke-width="0.9" stroke-linejoin="round"/><polygon points="31.97,13.24 13.24,31.97 -13.24,31.97 -31.97,13.24 -31.97,-13.24 -13.24,-31.97 13.24,-31.97 31.97,-13.24" fill="url(#disc)" stroke="#f1e9de" stroke-width="0.5"/></g><g filter="url(#b5)"><polygon points="0.5,-18.1 2.7,-14.4 7,-11.9 11.4,-6.2 15.3,-1.7 16.2,8.9 13.1,11.4 11.4,15 7,18.3 2.7,19.9 -3.9,18.3 -6.1,15 -11.3,12.6 -16.5,7.7 -14.8,-1.3 -13,-7 -10.4,-4.6 -7.8,-9.5 -4.3,-12.3 -1.7,-16" fill="#7f93ab" /><polygon points="-13,-6.4 -10.6,-3.6 -9.6,9 -13.6,7" fill="#b7c9dc" /><polygon points="-7.6,-9 -4.6,-11.6 -3.6,10 -7,12" fill="#98adc4" /><polygon points="-1.6,-15.4 0.6,-17.4 2.4,-13.6 2,1 -1,-1" fill="#dfe9f3" /><polygon points="4,-11 7.4,-10.6 9,10 5.4,12" fill="#a9bdd2" /><polygon points="10,-5 13.6,-2.4 14.8,8 11.4,10" fill="#b7c9dc" /><polygon points="14,-1.6 15.6,-0.6 15.8,8.4 14.4,9" fill="#8f9fd0" /><polygon points="0.4,0 3,-2.6 5,-1 5.4,9 2.6,12.4 0.4,8" fill="#eef5fb" /><polygon points="0.8,-1.4 2.6,-2.4 3,2 1,3" fill="#ffffff" /><polygon points="-5,3 -3.4,1.6 -3,6 -4.6,7" fill="#eef5fb" /><polygon points="-10.6,7 -8.6,6 -8.6,10 -10.4,10.6" fill="#eef5fb" /><polygon points="-2.6,-14.6 0,-17 -0.6,-12 -3.6,-11" fill="#f4f4f0" /><polygon points="-9,11 -3,12.6 -2,18 -7,14.6" fill="#66788e" /><polygon points="3,14 9,11.6 8,16.6 3,19.4" fill="#70839a" /></g></g></svg>
<svg class="a" style="left:757.7px;top:2438.3px" width="99.3" height="99.7" viewBox="0 0 99.3 99.7"><rect width="99.3" height="99.7" fill="url(#gbg)"/><g transform="translate(2.5 21.7)"><path d="M17.7,0 H85 Q88.4,0 88.4,3.4 V53.8 Q88.4,57.2 85,57.2 H34.9 Q31.5,57.2 31.5,53.8 V35.4 H17.7 A17.7,17.7 0 0 1 17.7,0 Z" fill="#3d2e26" filter="url(#b3)"/><polygon points="44.6,7.5 46.6,11.35 50.88,12.06 47.83,15.15 48.48,19.44 44.6,17.5 40.72,19.44 41.37,15.15 38.32,12.06 42.6,11.35" fill="#dac4f0" stroke="#dac4f0" stroke-width="1" stroke-linejoin="round"/><rect x="54.4" y="7.4" width="12.2" height="12.2" rx="1.4" fill="#685a52"/><rect x="70" y="7.4" width="12.2" height="12.2" rx="1.4" fill="#685a52"/><rect x="38.4" y="23.2" width="12.399999999999999" height="12.399999999999999" rx="1" fill="#dcc4f2"/><rect x="54.4" y="23.3" width="12.2" height="12.2" rx="1.4" fill="#685a52"/><rect x="70" y="23.3" width="12.2" height="12.2" rx="1.4" fill="#685a52"/><polygon points="44.6,39.1 46.6,42.95 50.88,43.66 47.83,46.75 48.48,51.04 44.6,49.1 40.72,51.04 41.37,46.75 38.32,43.66 42.6,42.95" fill="#dac4f0" stroke="#dac4f0" stroke-width="1" stroke-linejoin="round"/><rect x="54.4" y="39" width="12.2" height="12.2" rx="1.4" fill="#685a52"/><rect x="70" y="39" width="12.2" height="12.2" rx="1.4" fill="#685a52"/><polygon points="18.9,4.9 21.04,12.33 26.11,10.29 24.07,15.36 31.5,17.5 24.07,19.64 26.11,24.71 21.04,22.67 18.9,30.1 16.76,22.67 11.69,24.71 13.73,19.64 6.3,17.5 13.73,15.36 11.69,10.29 16.76,12.33" fill="#ddd0f6"/></g></svg>
<svg class="a" style="left:495px;top:0px;overflow:visible" width="120" height="1276" viewBox="0 0 120 1276"><text x="55.2" y="105.6" text-anchor="middle" font-family="'Liberation Sans','Noto Sans CJK SC',sans-serif" font-weight="700" font-size="9.46" letter-spacing="0" fill="#3a2c20" filter="url(#b3)">庆伯矿石</text><text x="60.1" y="213" text-anchor="middle" font-family="'Liberation Sans','Noto Sans CJK SC',sans-serif" font-weight="700" font-size="9.9" letter-spacing="0" fill="#3a2c20" filter="url(#b3)">可燃灰砂</text><text x="59.7" y="316.6" text-anchor="middle" font-family="'Liberation Sans','Noto Sans CJK SC',sans-serif" font-weight="700" font-size="9.9" letter-spacing="0" fill="#3a2c20" filter="url(#b3)">玉钢石</text><text x="60.5" y="422.4" text-anchor="middle" font-family="'Liberation Sans','Noto Sans CJK SC',sans-serif" font-weight="700" font-size="9.9" letter-spacing="0" fill="#3a2c20" filter="url(#b3)">红宝石原石</text><text x="59.3" y="524.6" text-anchor="middle" font-family="'Liberation Sans','Noto Sans CJK SC',sans-serif" font-weight="700" font-size="9.62" letter-spacing="0" fill="#3a2c20" filter="url(#b3)">蓝宝石原石</text><text x="57.9" y="631.7" text-anchor="middle" font-family="'Liberation Sans','Noto Sans CJK SC',sans-serif" font-weight="700" font-size="9.9" letter-spacing="0" fill="#3a2c20" filter="url(#b3)">硫磺矿石</text><text x="57.9" y="738.8" text-anchor="middle" font-family="'Liberation Sans','Noto Sans CJK SC',sans-serif" font-weight="700" font-size="9.9" letter-spacing="0" fill="#3a2c20" filter="url(#b3)">黄金色之岩</text><text x="58.5" y="850.1" text-anchor="middle" font-family="'Liberation Sans','Noto Sans CJK SC',sans-serif" font-weight="700" font-size="9.9" letter-spacing="0" fill="#3a2c20" filter="url(#b3)">橡胶石</text><text x="59.5" y="953" text-anchor="middle" font-family="'Liberation Sans','Noto Sans CJK SC',sans-serif" font-weight="700" font-size="9.9" letter-spacing="0" fill="#3a2c20" filter="url(#b3)">不锈之心</text><text x="58.9" y="1058.2" text-anchor="middle" font-family="'Liberation Sans','Noto Sans CJK SC',sans-serif" font-weight="700" font-size="9.7" letter-spacing="0" fill="#3a2c20" filter="url(#b3)">黄宝石原石</text><text x="58.3" y="1164" text-anchor="middle" font-family="'Liberation Sans','Noto Sans CJK SC',sans-serif" font-weight="700" font-size="9.89" letter-spacing="0" fill="#3a2c20" filter="url(#b3)">绿宝石原石</text><text x="56.2" y="1270" text-anchor="middle" font-family="'Liberation Sans','Noto Sans CJK SC',sans-serif" font-weight="700" font-size="9.89" letter-spacing="0" fill="#3a2c20" filter="url(#b3)">钻石原石</text><rect x="5.5" y="848.5" width="108" height="1.8" fill="#8f8862"/><rect x="5.5" y="850.3" width="108" height="1.6" fill="#f3eee6"/></svg>
<svg class="a" style="left:495px;top:1272px;overflow:visible" width="120" height="1276" viewBox="0 0 120 1276"><text x="55.2" y="105.6" text-anchor="middle" font-family="'Liberation Sans','Noto Sans CJK SC',sans-serif" font-weight="700" font-size="9.46" letter-spacing="0" fill="#3a2c20" filter="url(#b3)">庆伯矿石</text><text x="60.1" y="213" text-anchor="middle" font-family="'Liberation Sans','Noto Sans CJK SC',sans-serif" font-weight="700" font-size="9.9" letter-spacing="0" fill="#3a2c20" filter="url(#b3)">可燃灰砂</text><text x="59.7" y="316.6" text-anchor="middle" font-family="'Liberation Sans','Noto Sans CJK SC',sans-serif" font-weight="700" font-size="9.9" letter-spacing="0" fill="#3a2c20" filter="url(#b3)">玉钢石</text><text x="60.5" y="422.4" text-anchor="middle" font-family="'Liberation Sans','Noto Sans CJK SC',sans-serif" font-weight="700" font-size="9.9" letter-spacing="0" fill="#3a2c20" filter="url(#b3)">红宝石原石</text><text x="59.3" y="524.6" text-anchor="middle" font-family="'Liberation Sans','Noto Sans CJK SC',sans-serif" font-weight="700" font-size="9.62" letter-spacing="0" fill="#3a2c20" filter="url(#b3)">蓝宝石原石</text><text x="57.9" y="631.7" text-anchor="middle" font-family="'Liberation Sans','Noto Sans CJK SC',sans-serif" font-weight="700" font-size="9.9" letter-spacing="0" fill="#3a2c20" filter="url(#b3)">硫磺矿石</text><text x="57.9" y="738.8" text-anchor="middle" font-family="'Liberation Sans','Noto Sans CJK SC',sans-serif" font-weight="700" font-size="9.9" letter-spacing="0" fill="#3a2c20" filter="url(#b3)">黄金色之岩</text><text x="58.5" y="850.1" text-anchor="middle" font-family="'Liberation Sans','Noto Sans CJK SC',sans-serif" font-weight="700" font-size="9.9" letter-spacing="0" fill="#3a2c20" filter="url(#b3)">橡胶石</text><text x="59.5" y="953" text-anchor="middle" font-family="'Liberation Sans','Noto Sans CJK SC',sans-serif" font-weight="700" font-size="9.9" letter-spacing="0" fill="#3a2c20" filter="url(#b3)">不锈之心</text><text x="58.9" y="1058.2" text-anchor="middle" font-family="'Liberation Sans','Noto Sans CJK SC',sans-serif" font-weight="700" font-size="9.7" letter-spacing="0" fill="#3a2c20" filter="url(#b3)">黄宝石原石</text><text x="58.3" y="1164" text-anchor="middle" font-family="'Liberation Sans','Noto Sans CJK SC',sans-serif" font-weight="700" font-size="9.89" letter-spacing="0" fill="#3a2c20" filter="url(#b3)">绿宝石原石</text><text x="56.2" y="1270" text-anchor="middle" font-family="'Liberation Sans','Noto Sans CJK SC',sans-serif" font-weight="700" font-size="9.89" letter-spacing="0" fill="#3a2c20" filter="url(#b3)">钻石原石</text><rect x="5.5" y="848.5" width="108" height="1.8" fill="#8f8862"/><rect x="5.5" y="850.3" width="108" height="1.6" fill="#f3eee6"/></svg>
<div class="a" style="left:500.3px;top:1px;width:108.4px;height:2.3px;background:#c0baa6"></div>
<div class="dl" style="top:636px;left:499px;width:110px;opacity:0.45;background-position:-1.46px 0"></div>
<div class="a" style="left:500.3px;top:1273px;width:108.4px;height:2.3px;background:#c0baa6"></div>
<div class="dl" style="top:1908px;left:499px;width:110px;opacity:0.45;background-position:-1.46px 0"></div>
<div class="t" style="left:3.5px;top:1259.5px;width:200px">苏瓦的心脏</div>
<div class="t" style="left:205.5px;top:624.5px;width:124px">幽深大熔窟</div>
<div class="t" style="left:205.5px;top:1896.5px;width:124px">搏动炎界</div>
<div class="t" style="left:331px;top:306.5px;width:44px">晴</div>
<div class="t" style="left:331px;top:942.5px;width:44px">雷</div>
<div class="t" style="left:376px;top:147.5px;width:124px">十字镐</div>
<div class="t" style="left:376px;top:465.5px;width:124px">爆破锤子</div>
<div class="t" style="left:376px;top:783.5px;width:124px">十字镐</div>
<div class="t" style="left:376px;top:1101.5px;width:124px">爆破锤子</div>
<div class="t" style="left:595px;top:41.5px;width:150px">庆伯矿石</div>
<div class="t b" style="left:839.5px;top:41.5px;width:160px">（矿石）</div>
<div class="t" style="left:595px;top:147.5px;width:150px">可燃灰砂</div>
<div class="t b" style="left:839.5px;top:147.5px;width:160px">（火药）</div>
<div class="t b" style="left:964.5px;top:147.5px;width:160px">（砂）</div>
<div class="t" style="left:595px;top:253.5px;width:150px">玉钢石</div>
<div class="t b" style="left:839.5px;top:253.5px;width:160px">（金属）</div>
<div class="t b" style="left:964.5px;top:253.5px;width:160px">（矿石）</div>
<div class="t" style="left:595px;top:359.5px;width:150px">红宝石原石</div>
<div class="t b" style="left:839.5px;top:359.5px;width:160px">（原石）</div>
<div class="t b" style="left:964.5px;top:359.5px;width:160px">（火药）</div>
<div class="t" style="left:595px;top:465.5px;width:150px">蓝宝石原石</div>
<div class="t b" style="left:839.5px;top:465.5px;width:160px">（原石）</div>
<div class="t b" style="left:964.5px;top:465.5px;width:160px">（矿石）</div>
<div class="t" style="left:595px;top:571.5px;width:150px">硫磺矿石</div>
<div class="t b" style="left:839.5px;top:571.5px;width:160px">（矿石）</div>
<div class="t b" style="left:964.5px;top:571.5px;width:160px">（燃料）</div>
<div class="t" style="left:595px;top:677.5px;width:150px">黄金色之岩</div>
<div class="t b" style="left:839.5px;top:677.5px;width:160px">（石材）</div>
<div class="t b" style="left:964.5px;top:677.5px;width:160px">（矿石）</div>
<div class="t b" style="left:1089.5px;top:677.5px;width:160px">（原石）</div>
<div class="t" style="left:595px;top:783.5px;width:150px">橡胶石</div>
<div class="t b" style="left:839.5px;top:783.5px;width:160px">（石材）</div>
<div class="t b" style="left:964.5px;top:783.5px;width:160px">（线材）</div>
<div class="t" style="left:595px;top:889.5px;width:150px">不锈之心</div>
<div class="t b" style="left:839.5px;top:889.5px;width:160px">（万灵药）</div>
<div class="t b" style="left:964.5px;top:889.5px;width:160px">（药材）</div>
<div class="t b" style="left:1089.5px;top:889.5px;width:160px">（燃料）</div>
<div class="t b" style="left:1214.5px;top:889.5px;width:160px">（动物素材）</div>
<div class="t" style="left:595px;top:995.5px;width:150px">黄宝石原石</div>
<div class="t b" style="left:839.5px;top:995.5px;width:160px">（原石）</div>
<div class="t b" style="left:964.5px;top:995.5px;width:160px">（砂）</div>
<div class="t" style="left:595px;top:1101.5px;width:150px">绿宝石原石</div>
<div class="t b" style="left:839.5px;top:1101.5px;width:160px">（原石）</div>
<div class="t b" style="left:964.5px;top:1101.5px;width:160px">（气体）</div>
<div class="t" style="left:595px;top:1207.5px;width:150px">钻石原石</div>
<div class="t b" style="left:839.5px;top:1207.5px;width:160px">（原石）</div>
<div class="t b" style="left:964.5px;top:1207.5px;width:160px">（万灵药）</div>
<div class="t" style="left:331px;top:1578.5px;width:44px">晴</div>
<div class="t" style="left:331px;top:2214.5px;width:44px">雷</div>
<div class="t" style="left:376px;top:1419.5px;width:124px">十字镐</div>
<div class="t" style="left:376px;top:1737.5px;width:124px">爆破锤子</div>
<div class="t" style="left:376px;top:2055.5px;width:124px">十字镐</div>
<div class="t" style="left:376px;top:2373.5px;width:124px">爆破锤子</div>
<div class="t" style="left:595px;top:1313.5px;width:150px">庆伯矿石</div>
<div class="t b" style="left:839.5px;top:1313.5px;width:160px">（矿石）</div>
<div class="t" style="left:595px;top:1419.5px;width:150px">可燃灰砂</div>
<div class="t b" style="left:839.5px;top:1419.5px;width:160px">（火药）</div>
<div class="t b" style="left:964.5px;top:1419.5px;width:160px">（砂）</div>
<div class="t" style="left:595px;top:1525.5px;width:150px">玉钢石</div>
<div class="t b" style="left:839.5px;top:1525.5px;width:160px">（金属）</div>
<div class="t b" style="left:964.5px;top:1525.5px;width:160px">（矿石）</div>
<div class="t" style="left:595px;top:1631.5px;width:150px">红宝石原石</div>
<div class="t b" style="left:839.5px;top:1631.5px;width:160px">（原石）</div>
<div class="t b" style="left:964.5px;top:1631.5px;width:160px">（火药）</div>
<div class="t" style="left:595px;top:1737.5px;width:150px">蓝宝石原石</div>
<div class="t b" style="left:839.5px;top:1737.5px;width:160px">（原石）</div>
<div class="t b" style="left:964.5px;top:1737.5px;width:160px">（矿石）</div>
<div class="t" style="left:595px;top:1843.5px;width:150px">硫磺矿石</div>
<div class="t b" style="left:839.5px;top:1843.5px;width:160px">（矿石）</div>
<div class="t b" style="left:964.5px;top:1843.5px;width:160px">（燃料）</div>
<div class="t" style="left:595px;top:1949.5px;width:150px">黄金色之岩</div>
<div class="t b" style="left:839.5px;top:1949.5px;width:160px">（石材）</div>
<div class="t b" style="left:964.5px;top:1949.5px;width:160px">（矿石）</div>
<div class="t b" style="left:1089.5px;top:1949.5px;width:160px">（原石）</div>
<div class="t" style="left:595px;top:2055.5px;width:150px">橡胶石</div>
<div class="t b" style="left:839.5px;top:2055.5px;width:160px">（石材）</div>
<div class="t b" style="left:964.5px;top:2055.5px;width:160px">（线材）</div>
<div class="t" style="left:595px;top:2161.5px;width:150px">不锈之心</div>
<div class="t b" style="left:839.5px;top:2161.5px;width:160px">（万灵药）</div>
<div class="t b" style="left:964.5px;top:2161.5px;width:160px">（药材）</div>
<div class="t b" style="left:1089.5px;top:2161.5px;width:160px">（燃料）</div>
<div class="t b" style="left:1214.5px;top:2161.5px;width:160px">（动物素材）</div>
<div class="t" style="left:595px;top:2267.5px;width:150px">黄宝石原石</div>
<div class="t b" style="left:839.5px;top:2267.5px;width:160px">（原石）</div>
<div class="t b" style="left:964.5px;top:2267.5px;width:160px">（砂）</div>
<div class="t" style="left:595px;top:2373.5px;width:150px">绿宝石原石</div>
<div class="t b" style="left:839.5px;top:2373.5px;width:160px">（原石）</div>
<div class="t b" style="left:964.5px;top:2373.5px;width:160px">（气体）</div>
<div class="t" style="left:595px;top:2479.5px;width:150px">钻石原石</div>
<div class="t b" style="left:839.5px;top:2479.5px;width:160px">（原石）</div>
<div class="t b" style="left:964.5px;top:2479.5px;width:160px">（万灵药）</div>
</body></html>
